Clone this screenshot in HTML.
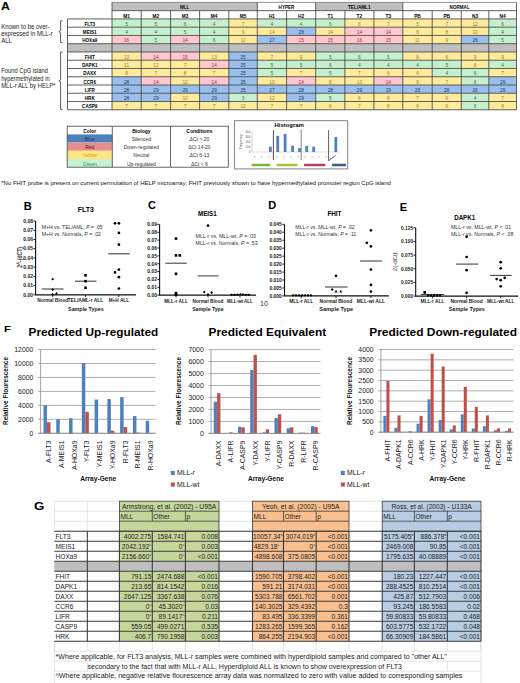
<!DOCTYPE html>
<html><head><meta charset="utf-8"><style>
html,body{margin:0;padding:0;background:#fff;}
svg{display:block;font-family:"Liberation Sans", sans-serif;}
</style></head><body>
<svg width="520" height="683" viewBox="0 0 520 683">
<rect width="520" height="683" fill="#fff"/>
<text x="1.00" y="9.90" font-size="10.4" font-weight="bold" textLength="8.90" lengthAdjust="spacingAndGlyphs">A</text>
<rect x="112.00" y="2.40" width="145.30" height="8.26" fill="#BFBFBF"/>
<rect x="257.30" y="2.40" width="58.40" height="8.26" fill="#FFFFFF"/>
<rect x="315.70" y="2.40" width="87.10" height="8.26" fill="#BFBFBF"/>
<rect x="402.80" y="2.40" width="113.70" height="8.26" fill="#FFFFFF"/>
<rect x="112.00" y="10.66" width="29.20" height="8.26" fill="#FFFFFF"/>
<rect x="141.20" y="10.66" width="29.40" height="8.26" fill="#FFFFFF"/>
<rect x="170.60" y="10.66" width="29.00" height="8.26" fill="#FFFFFF"/>
<rect x="199.60" y="10.66" width="29.20" height="8.26" fill="#FFFFFF"/>
<rect x="228.80" y="10.66" width="28.50" height="8.26" fill="#FFFFFF"/>
<rect x="257.30" y="10.66" width="29.30" height="8.26" fill="#FFFFFF"/>
<rect x="286.60" y="10.66" width="29.10" height="8.26" fill="#FFFFFF"/>
<rect x="315.70" y="10.66" width="29.20" height="8.26" fill="#FFFFFF"/>
<rect x="344.90" y="10.66" width="29.00" height="8.26" fill="#FFFFFF"/>
<rect x="373.90" y="10.66" width="28.90" height="8.26" fill="#FFFFFF"/>
<rect x="402.80" y="10.66" width="29.40" height="8.26" fill="#FFFFFF"/>
<rect x="432.20" y="10.66" width="29.10" height="8.26" fill="#FFFFFF"/>
<rect x="461.30" y="10.66" width="27.50" height="8.26" fill="#FFFFFF"/>
<rect x="488.80" y="10.66" width="27.70" height="8.26" fill="#FFFFFF"/>
<rect x="67.50" y="18.92" width="44.50" height="8.26" fill="#FFFFFF"/>
<rect x="112.00" y="18.92" width="29.20" height="8.26" fill="#C6EFCE"/>
<rect x="141.20" y="18.92" width="29.40" height="8.26" fill="#C6EFCE"/>
<rect x="170.60" y="18.92" width="29.00" height="8.26" fill="#C6EFCE"/>
<rect x="199.60" y="18.92" width="29.20" height="8.26" fill="#C6EFCE"/>
<rect x="228.80" y="18.92" width="28.50" height="8.26" fill="#FFEB9C"/>
<rect x="257.30" y="18.92" width="29.30" height="8.26" fill="#C6EFCE"/>
<rect x="286.60" y="18.92" width="29.10" height="8.26" fill="#C6EFCE"/>
<rect x="315.70" y="18.92" width="29.20" height="8.26" fill="#C6EFCE"/>
<rect x="344.90" y="18.92" width="29.00" height="8.26" fill="#FFEB9C"/>
<rect x="373.90" y="18.92" width="28.90" height="8.26" fill="#FFEB9C"/>
<rect x="402.80" y="18.92" width="29.40" height="8.26" fill="#FFEB9C"/>
<rect x="432.20" y="18.92" width="29.10" height="8.26" fill="#FFEB9C"/>
<rect x="461.30" y="18.92" width="27.50" height="8.26" fill="#FFEB9C"/>
<rect x="488.80" y="18.92" width="27.70" height="8.26" fill="#C6EFCE"/>
<rect x="67.50" y="27.18" width="44.50" height="8.26" fill="#FFFFFF"/>
<rect x="112.00" y="27.18" width="29.20" height="8.26" fill="#C6EFCE"/>
<rect x="141.20" y="27.18" width="29.40" height="8.26" fill="#C6EFCE"/>
<rect x="170.60" y="27.18" width="29.00" height="8.26" fill="#C6EFCE"/>
<rect x="199.60" y="27.18" width="29.20" height="8.26" fill="#C6EFCE"/>
<rect x="228.80" y="27.18" width="28.50" height="8.26" fill="#FFEB9C"/>
<rect x="257.30" y="27.18" width="29.30" height="8.26" fill="#FFEB9C"/>
<rect x="286.60" y="27.18" width="29.10" height="8.26" fill="#9BBFEC"/>
<rect x="315.70" y="27.18" width="29.20" height="8.26" fill="#FFEB9C"/>
<rect x="344.90" y="27.18" width="29.00" height="8.26" fill="#FFC7CE"/>
<rect x="373.90" y="27.18" width="28.90" height="8.26" fill="#FFC7CE"/>
<rect x="402.80" y="27.18" width="29.40" height="8.26" fill="#FFEB9C"/>
<rect x="432.20" y="27.18" width="29.10" height="8.26" fill="#FFEB9C"/>
<rect x="461.30" y="27.18" width="27.50" height="8.26" fill="#FFEB9C"/>
<rect x="488.80" y="27.18" width="27.70" height="8.26" fill="#C6EFCE"/>
<rect x="67.50" y="35.44" width="44.50" height="8.26" fill="#FFFFFF"/>
<rect x="112.00" y="35.44" width="29.20" height="8.26" fill="#FFC7CE"/>
<rect x="141.20" y="35.44" width="29.40" height="8.26" fill="#C6EFCE"/>
<rect x="170.60" y="35.44" width="29.00" height="8.26" fill="#FFC7CE"/>
<rect x="199.60" y="35.44" width="29.20" height="8.26" fill="#C6EFCE"/>
<rect x="228.80" y="35.44" width="28.50" height="8.26" fill="#FFEB9C"/>
<rect x="257.30" y="35.44" width="29.30" height="8.26" fill="#9BBFEC"/>
<rect x="286.60" y="35.44" width="29.10" height="8.26" fill="#FFC7CE"/>
<rect x="315.70" y="35.44" width="29.20" height="8.26" fill="#FFC7CE"/>
<rect x="344.90" y="35.44" width="29.00" height="8.26" fill="#FFC7CE"/>
<rect x="373.90" y="35.44" width="28.90" height="8.26" fill="#FFC7CE"/>
<rect x="402.80" y="35.44" width="29.40" height="8.26" fill="#FFEB9C"/>
<rect x="432.20" y="35.44" width="29.10" height="8.26" fill="#FFEB9C"/>
<rect x="461.30" y="35.44" width="27.50" height="8.26" fill="#9BBFEC"/>
<rect x="488.80" y="35.44" width="27.70" height="8.26" fill="#C6EFCE"/>
<rect x="67.50" y="43.70" width="449.00" height="8.26" fill="#BFBFBF"/>
<rect x="67.50" y="51.96" width="44.50" height="8.26" fill="#FFFFFF"/>
<rect x="112.00" y="51.96" width="29.20" height="8.26" fill="#FFEB9C"/>
<rect x="141.20" y="51.96" width="29.40" height="8.26" fill="#FFC7CE"/>
<rect x="170.60" y="51.96" width="29.00" height="8.26" fill="#FFC7CE"/>
<rect x="199.60" y="51.96" width="29.20" height="8.26" fill="#FFEB9C"/>
<rect x="228.80" y="51.96" width="28.50" height="8.26" fill="#9BBFEC"/>
<rect x="257.30" y="51.96" width="29.30" height="8.26" fill="#FFEB9C"/>
<rect x="286.60" y="51.96" width="29.10" height="8.26" fill="#FFEB9C"/>
<rect x="315.70" y="51.96" width="29.20" height="8.26" fill="#C6EFCE"/>
<rect x="344.90" y="51.96" width="29.00" height="8.26" fill="#C6EFCE"/>
<rect x="373.90" y="51.96" width="28.90" height="8.26" fill="#C6EFCE"/>
<rect x="402.80" y="51.96" width="29.40" height="8.26" fill="#FFEB9C"/>
<rect x="432.20" y="51.96" width="29.10" height="8.26" fill="#FFEB9C"/>
<rect x="461.30" y="51.96" width="27.50" height="8.26" fill="#FFEB9C"/>
<rect x="488.80" y="51.96" width="27.70" height="8.26" fill="#FFEB9C"/>
<rect x="67.50" y="60.22" width="44.50" height="8.26" fill="#FFFFFF"/>
<rect x="112.00" y="60.22" width="29.20" height="8.26" fill="#FFEB9C"/>
<rect x="141.20" y="60.22" width="29.40" height="8.26" fill="#FFEB9C"/>
<rect x="170.60" y="60.22" width="29.00" height="8.26" fill="#FFEB9C"/>
<rect x="199.60" y="60.22" width="29.20" height="8.26" fill="#FFC7CE"/>
<rect x="228.80" y="60.22" width="28.50" height="8.26" fill="#9BBFEC"/>
<rect x="257.30" y="60.22" width="29.30" height="8.26" fill="#C6EFCE"/>
<rect x="286.60" y="60.22" width="29.10" height="8.26" fill="#C6EFCE"/>
<rect x="315.70" y="60.22" width="29.20" height="8.26" fill="#C6EFCE"/>
<rect x="344.90" y="60.22" width="29.00" height="8.26" fill="#C6EFCE"/>
<rect x="373.90" y="60.22" width="28.90" height="8.26" fill="#C6EFCE"/>
<rect x="402.80" y="60.22" width="29.40" height="8.26" fill="#C6EFCE"/>
<rect x="432.20" y="60.22" width="29.10" height="8.26" fill="#C6EFCE"/>
<rect x="461.30" y="60.22" width="27.50" height="8.26" fill="#FFEB9C"/>
<rect x="488.80" y="60.22" width="27.70" height="8.26" fill="#C6EFCE"/>
<rect x="67.50" y="68.48" width="44.50" height="8.26" fill="#FFFFFF"/>
<rect x="112.00" y="68.48" width="29.20" height="8.26" fill="#FFEB9C"/>
<rect x="141.20" y="68.48" width="29.40" height="8.26" fill="#FFEB9C"/>
<rect x="170.60" y="68.48" width="29.00" height="8.26" fill="#FFEB9C"/>
<rect x="199.60" y="68.48" width="29.20" height="8.26" fill="#FFEB9C"/>
<rect x="228.80" y="68.48" width="28.50" height="8.26" fill="#9BBFEC"/>
<rect x="257.30" y="68.48" width="29.30" height="8.26" fill="#C6EFCE"/>
<rect x="286.60" y="68.48" width="29.10" height="8.26" fill="#FFEB9C"/>
<rect x="315.70" y="68.48" width="29.20" height="8.26" fill="#C6EFCE"/>
<rect x="344.90" y="68.48" width="29.00" height="8.26" fill="#FFEB9C"/>
<rect x="373.90" y="68.48" width="28.90" height="8.26" fill="#FFEB9C"/>
<rect x="402.80" y="68.48" width="29.40" height="8.26" fill="#FFEB9C"/>
<rect x="432.20" y="68.48" width="29.10" height="8.26" fill="#C6EFCE"/>
<rect x="461.30" y="68.48" width="27.50" height="8.26" fill="#C6EFCE"/>
<rect x="488.80" y="68.48" width="27.70" height="8.26" fill="#FFEB9C"/>
<rect x="67.50" y="76.74" width="44.50" height="8.26" fill="#FFFFFF"/>
<rect x="112.00" y="76.74" width="29.20" height="8.26" fill="#9BBFEC"/>
<rect x="141.20" y="76.74" width="29.40" height="8.26" fill="#FFC7CE"/>
<rect x="170.60" y="76.74" width="29.00" height="8.26" fill="#FFEB9C"/>
<rect x="199.60" y="76.74" width="29.20" height="8.26" fill="#FFC7CE"/>
<rect x="228.80" y="76.74" width="28.50" height="8.26" fill="#9BBFEC"/>
<rect x="257.30" y="76.74" width="29.30" height="8.26" fill="#FFEB9C"/>
<rect x="286.60" y="76.74" width="29.10" height="8.26" fill="#FFC7CE"/>
<rect x="315.70" y="76.74" width="29.20" height="8.26" fill="#FFEB9C"/>
<rect x="344.90" y="76.74" width="29.00" height="8.26" fill="#FFEB9C"/>
<rect x="373.90" y="76.74" width="28.90" height="8.26" fill="#FFC7CE"/>
<rect x="402.80" y="76.74" width="29.40" height="8.26" fill="#FFEB9C"/>
<rect x="432.20" y="76.74" width="29.10" height="8.26" fill="#FFEB9C"/>
<rect x="461.30" y="76.74" width="27.50" height="8.26" fill="#C6EFCE"/>
<rect x="488.80" y="76.74" width="27.70" height="8.26" fill="#9BBFEC"/>
<rect x="67.50" y="85.00" width="44.50" height="8.26" fill="#FFFFFF"/>
<rect x="112.00" y="85.00" width="29.20" height="8.26" fill="#9BBFEC"/>
<rect x="141.20" y="85.00" width="29.40" height="8.26" fill="#9BBFEC"/>
<rect x="170.60" y="85.00" width="29.00" height="8.26" fill="#9BBFEC"/>
<rect x="199.60" y="85.00" width="29.20" height="8.26" fill="#9BBFEC"/>
<rect x="228.80" y="85.00" width="28.50" height="8.26" fill="#9BBFEC"/>
<rect x="257.30" y="85.00" width="29.30" height="8.26" fill="#9BBFEC"/>
<rect x="286.60" y="85.00" width="29.10" height="8.26" fill="#9BBFEC"/>
<rect x="315.70" y="85.00" width="29.20" height="8.26" fill="#9BBFEC"/>
<rect x="344.90" y="85.00" width="29.00" height="8.26" fill="#9BBFEC"/>
<rect x="373.90" y="85.00" width="28.90" height="8.26" fill="#9BBFEC"/>
<rect x="402.80" y="85.00" width="29.40" height="8.26" fill="#9BBFEC"/>
<rect x="432.20" y="85.00" width="29.10" height="8.26" fill="#9BBFEC"/>
<rect x="461.30" y="85.00" width="27.50" height="8.26" fill="#9BBFEC"/>
<rect x="488.80" y="85.00" width="27.70" height="8.26" fill="#9BBFEC"/>
<rect x="67.50" y="93.26" width="44.50" height="8.26" fill="#FFFFFF"/>
<rect x="112.00" y="93.26" width="29.20" height="8.26" fill="#9BBFEC"/>
<rect x="141.20" y="93.26" width="29.40" height="8.26" fill="#9BBFEC"/>
<rect x="170.60" y="93.26" width="29.00" height="8.26" fill="#FFEB9C"/>
<rect x="199.60" y="93.26" width="29.20" height="8.26" fill="#9BBFEC"/>
<rect x="228.80" y="93.26" width="28.50" height="8.26" fill="#C6EFCE"/>
<rect x="257.30" y="93.26" width="29.30" height="8.26" fill="#FFEB9C"/>
<rect x="286.60" y="93.26" width="29.10" height="8.26" fill="#9BBFEC"/>
<rect x="315.70" y="93.26" width="29.20" height="8.26" fill="#C6EFCE"/>
<rect x="344.90" y="93.26" width="29.00" height="8.26" fill="#FFEB9C"/>
<rect x="373.90" y="93.26" width="28.90" height="8.26" fill="#FFEB9C"/>
<rect x="402.80" y="93.26" width="29.40" height="8.26" fill="#FFEB9C"/>
<rect x="432.20" y="93.26" width="29.10" height="8.26" fill="#FFEB9C"/>
<rect x="461.30" y="93.26" width="27.50" height="8.26" fill="#C6EFCE"/>
<rect x="488.80" y="93.26" width="27.70" height="8.26" fill="#FFEB9C"/>
<rect x="67.50" y="101.52" width="44.50" height="8.26" fill="#FFFFFF"/>
<rect x="112.00" y="101.52" width="29.20" height="8.26" fill="#FFEB9C"/>
<rect x="141.20" y="101.52" width="29.40" height="8.26" fill="#FFEB9C"/>
<rect x="170.60" y="101.52" width="29.00" height="8.26" fill="#FFEB9C"/>
<rect x="199.60" y="101.52" width="29.20" height="8.26" fill="#FFEB9C"/>
<rect x="228.80" y="101.52" width="28.50" height="8.26" fill="#FFEB9C"/>
<rect x="257.30" y="101.52" width="29.30" height="8.26" fill="#FFEB9C"/>
<rect x="286.60" y="101.52" width="29.10" height="8.26" fill="#FFEB9C"/>
<rect x="315.70" y="101.52" width="29.20" height="8.26" fill="#FFEB9C"/>
<rect x="344.90" y="101.52" width="29.00" height="8.26" fill="#FFEB9C"/>
<rect x="373.90" y="101.52" width="28.90" height="8.26" fill="#FFEB9C"/>
<rect x="402.80" y="101.52" width="29.40" height="8.26" fill="#FFEB9C"/>
<rect x="432.20" y="101.52" width="29.10" height="8.26" fill="#FFEB9C"/>
<rect x="461.30" y="101.52" width="27.50" height="8.26" fill="#C6EFCE"/>
<rect x="488.80" y="101.52" width="27.70" height="8.26" fill="#FFEB9C"/>
<line x1="112.00" y1="2.40" x2="516.50" y2="2.40" stroke="#7a7a7a" stroke-width="0.8"/>
<line x1="112.00" y1="10.66" x2="516.50" y2="10.66" stroke="#3a3a3a" stroke-width="0.8"/>
<line x1="67.50" y1="18.92" x2="516.50" y2="18.92" stroke="#3a3a3a" stroke-width="0.8"/>
<line x1="67.50" y1="27.18" x2="516.50" y2="27.18" stroke="#3a3a3a" stroke-width="0.8"/>
<line x1="67.50" y1="35.44" x2="516.50" y2="35.44" stroke="#3a3a3a" stroke-width="0.8"/>
<line x1="67.50" y1="43.70" x2="516.50" y2="43.70" stroke="#3a3a3a" stroke-width="0.8"/>
<line x1="67.50" y1="51.96" x2="516.50" y2="51.96" stroke="#3a3a3a" stroke-width="0.8"/>
<line x1="67.50" y1="60.22" x2="516.50" y2="60.22" stroke="#3a3a3a" stroke-width="0.8"/>
<line x1="67.50" y1="68.48" x2="516.50" y2="68.48" stroke="#3a3a3a" stroke-width="0.8"/>
<line x1="67.50" y1="76.74" x2="516.50" y2="76.74" stroke="#3a3a3a" stroke-width="0.8"/>
<line x1="67.50" y1="85.00" x2="516.50" y2="85.00" stroke="#3a3a3a" stroke-width="0.8"/>
<line x1="67.50" y1="93.26" x2="516.50" y2="93.26" stroke="#3a3a3a" stroke-width="0.8"/>
<line x1="67.50" y1="101.52" x2="516.50" y2="101.52" stroke="#3a3a3a" stroke-width="0.8"/>
<line x1="67.50" y1="109.78" x2="516.50" y2="109.78" stroke="#3a3a3a" stroke-width="0.8"/>
<line x1="67.50" y1="18.92" x2="67.50" y2="109.78" stroke="#3a3a3a" stroke-width="0.8"/>
<line x1="112.00" y1="2.40" x2="112.00" y2="109.78" stroke="#3a3a3a" stroke-width="0.8"/>
<line x1="141.20" y1="10.66" x2="141.20" y2="109.78" stroke="#3a3a3a" stroke-width="0.8"/>
<line x1="170.60" y1="10.66" x2="170.60" y2="109.78" stroke="#3a3a3a" stroke-width="0.8"/>
<line x1="199.60" y1="10.66" x2="199.60" y2="109.78" stroke="#3a3a3a" stroke-width="0.8"/>
<line x1="228.80" y1="10.66" x2="228.80" y2="109.78" stroke="#3a3a3a" stroke-width="0.8"/>
<line x1="257.30" y1="2.40" x2="257.30" y2="109.78" stroke="#3a3a3a" stroke-width="0.8"/>
<line x1="286.60" y1="10.66" x2="286.60" y2="109.78" stroke="#3a3a3a" stroke-width="0.8"/>
<line x1="315.70" y1="2.40" x2="315.70" y2="109.78" stroke="#3a3a3a" stroke-width="0.8"/>
<line x1="344.90" y1="10.66" x2="344.90" y2="109.78" stroke="#3a3a3a" stroke-width="0.8"/>
<line x1="373.90" y1="10.66" x2="373.90" y2="109.78" stroke="#3a3a3a" stroke-width="0.8"/>
<line x1="402.80" y1="2.40" x2="402.80" y2="109.78" stroke="#3a3a3a" stroke-width="0.8"/>
<line x1="432.20" y1="10.66" x2="432.20" y2="109.78" stroke="#3a3a3a" stroke-width="0.8"/>
<line x1="461.30" y1="10.66" x2="461.30" y2="109.78" stroke="#3a3a3a" stroke-width="0.8"/>
<line x1="488.80" y1="10.66" x2="488.80" y2="109.78" stroke="#3a3a3a" stroke-width="0.8"/>
<line x1="516.50" y1="2.40" x2="516.50" y2="109.78" stroke="#3a3a3a" stroke-width="0.8"/>
<text x="184.65" y="9.36" font-size="4.6" text-anchor="middle" font-weight="bold">MLL</text>
<text x="286.50" y="9.36" font-size="4.6" text-anchor="middle" font-weight="bold">HYPER</text>
<text x="359.25" y="9.36" font-size="4.6" text-anchor="middle" font-weight="bold">TEL/AML1</text>
<text x="459.65" y="9.36" font-size="4.6" text-anchor="middle" font-weight="bold">NORMAL</text>
<text x="126.60" y="17.52" font-size="4.8" text-anchor="middle" font-weight="bold">M1</text>
<text x="155.90" y="17.52" font-size="4.8" text-anchor="middle" font-weight="bold">M2</text>
<text x="185.10" y="17.52" font-size="4.8" text-anchor="middle" font-weight="bold">M3</text>
<text x="214.20" y="17.52" font-size="4.8" text-anchor="middle" font-weight="bold">M4</text>
<text x="243.05" y="17.52" font-size="4.8" text-anchor="middle" font-weight="bold">M5</text>
<text x="271.95" y="17.52" font-size="4.8" text-anchor="middle" font-weight="bold">H1</text>
<text x="301.15" y="17.52" font-size="4.8" text-anchor="middle" font-weight="bold">H2</text>
<text x="330.30" y="17.52" font-size="4.8" text-anchor="middle" font-weight="bold">T1</text>
<text x="359.40" y="17.52" font-size="4.8" text-anchor="middle" font-weight="bold">T2</text>
<text x="388.35" y="17.52" font-size="4.8" text-anchor="middle" font-weight="bold">T3</text>
<text x="417.50" y="17.52" font-size="4.8" text-anchor="middle" font-weight="bold">PB</text>
<text x="446.75" y="17.52" font-size="4.8" text-anchor="middle" font-weight="bold">PB</text>
<text x="475.05" y="17.52" font-size="4.8" text-anchor="middle" font-weight="bold">N3</text>
<text x="502.65" y="17.52" font-size="4.8" text-anchor="middle" font-weight="bold">N4</text>
<text x="126.60" y="25.78" font-size="4.8" text-anchor="middle" fill="#2A7A3A">5</text>
<text x="155.90" y="25.78" font-size="4.8" text-anchor="middle" fill="#2A7A3A">5</text>
<text x="185.10" y="25.78" font-size="4.8" text-anchor="middle" fill="#2A7A3A">6</text>
<text x="214.20" y="25.78" font-size="4.8" text-anchor="middle" fill="#2A7A3A">4</text>
<text x="243.05" y="25.78" font-size="4.8" text-anchor="middle" fill="#A57A22">7</text>
<text x="271.95" y="25.78" font-size="4.8" text-anchor="middle" fill="#2A7A3A">4</text>
<text x="301.15" y="25.78" font-size="4.8" text-anchor="middle" fill="#2A7A3A">4</text>
<text x="330.30" y="25.78" font-size="4.8" text-anchor="middle" fill="#2A7A3A">6</text>
<text x="359.40" y="25.78" font-size="4.8" text-anchor="middle" fill="#A57A22">6</text>
<text x="388.35" y="25.78" font-size="4.8" text-anchor="middle" fill="#A57A22">7</text>
<text x="417.50" y="25.78" font-size="4.8" text-anchor="middle" fill="#A57A22">5</text>
<text x="446.75" y="25.78" font-size="4.8" text-anchor="middle" fill="#A57A22">7</text>
<text x="475.05" y="25.78" font-size="4.8" text-anchor="middle" fill="#A57A22">12</text>
<text x="502.65" y="25.78" font-size="4.8" text-anchor="middle" fill="#2A7A3A">6</text>
<text x="89.75" y="25.78" font-size="4.6" text-anchor="middle" font-weight="bold">FLT3</text>
<text x="126.60" y="34.04" font-size="4.8" text-anchor="middle" fill="#2A7A3A">4</text>
<text x="155.90" y="34.04" font-size="4.8" text-anchor="middle" fill="#2A7A3A">4</text>
<text x="185.10" y="34.04" font-size="4.8" text-anchor="middle" fill="#2A7A3A">5</text>
<text x="214.20" y="34.04" font-size="4.8" text-anchor="middle" fill="#2A7A3A">4</text>
<text x="243.05" y="34.04" font-size="4.8" text-anchor="middle" fill="#A57A22">9</text>
<text x="271.95" y="34.04" font-size="4.8" text-anchor="middle" fill="#A57A22">14</text>
<text x="301.15" y="34.04" font-size="4.8" text-anchor="middle" fill="#203E6E">28</text>
<text x="330.30" y="34.04" font-size="4.8" text-anchor="middle" fill="#A57A22">14</text>
<text x="359.40" y="34.04" font-size="4.8" text-anchor="middle" fill="#A8283A">14</text>
<text x="388.35" y="34.04" font-size="4.8" text-anchor="middle" fill="#A8283A">14</text>
<text x="417.50" y="34.04" font-size="4.8" text-anchor="middle" fill="#A57A22">8</text>
<text x="446.75" y="34.04" font-size="4.8" text-anchor="middle" fill="#A57A22">8</text>
<text x="475.05" y="34.04" font-size="4.8" text-anchor="middle" fill="#A57A22">10</text>
<text x="502.65" y="34.04" font-size="4.8" text-anchor="middle" fill="#2A7A3A">4</text>
<text x="89.75" y="34.04" font-size="4.6" text-anchor="middle" font-weight="bold">MEIS1</text>
<text x="126.60" y="42.30" font-size="4.8" text-anchor="middle" fill="#A8283A">16</text>
<text x="155.90" y="42.30" font-size="4.8" text-anchor="middle" fill="#2A7A3A">5</text>
<text x="185.10" y="42.30" font-size="4.8" text-anchor="middle" fill="#A8283A">14</text>
<text x="214.20" y="42.30" font-size="4.8" text-anchor="middle" fill="#2A7A3A">6</text>
<text x="243.05" y="42.30" font-size="4.8" text-anchor="middle" fill="#A57A22">12</text>
<text x="271.95" y="42.30" font-size="4.8" text-anchor="middle" fill="#203E6E">27</text>
<text x="301.15" y="42.30" font-size="4.8" text-anchor="middle" fill="#A8283A">15</text>
<text x="330.30" y="42.30" font-size="4.8" text-anchor="middle" fill="#A8283A">15</text>
<text x="359.40" y="42.30" font-size="4.8" text-anchor="middle" fill="#A8283A">16</text>
<text x="388.35" y="42.30" font-size="4.8" text-anchor="middle" fill="#A8283A">15</text>
<text x="417.50" y="42.30" font-size="4.8" text-anchor="middle" fill="#A57A22">11</text>
<text x="446.75" y="42.30" font-size="4.8" text-anchor="middle" fill="#A57A22">9</text>
<text x="475.05" y="42.30" font-size="4.8" text-anchor="middle" fill="#203E6E">26</text>
<text x="502.65" y="42.30" font-size="4.8" text-anchor="middle" fill="#2A7A3A">5</text>
<text x="89.75" y="42.30" font-size="4.6" text-anchor="middle" font-weight="bold">HOXa9</text>
<text x="126.60" y="58.82" font-size="4.8" text-anchor="middle" fill="#A57A22">13</text>
<text x="155.90" y="58.82" font-size="4.8" text-anchor="middle" fill="#A8283A">14</text>
<text x="185.10" y="58.82" font-size="4.8" text-anchor="middle" fill="#A8283A">15</text>
<text x="214.20" y="58.82" font-size="4.8" text-anchor="middle" fill="#A57A22">13</text>
<text x="243.05" y="58.82" font-size="4.8" text-anchor="middle" fill="#203E6E">25</text>
<text x="271.95" y="58.82" font-size="4.8" text-anchor="middle" fill="#A57A22">7</text>
<text x="301.15" y="58.82" font-size="4.8" text-anchor="middle" fill="#A57A22">9</text>
<text x="330.30" y="58.82" font-size="4.8" text-anchor="middle" fill="#2A7A3A">5</text>
<text x="359.40" y="58.82" font-size="4.8" text-anchor="middle" fill="#2A7A3A">6</text>
<text x="388.35" y="58.82" font-size="4.8" text-anchor="middle" fill="#2A7A3A">5</text>
<text x="417.50" y="58.82" font-size="4.8" text-anchor="middle" fill="#A57A22">8</text>
<text x="446.75" y="58.82" font-size="4.8" text-anchor="middle" fill="#A57A22">6</text>
<text x="475.05" y="58.82" font-size="4.8" text-anchor="middle" fill="#A57A22">9</text>
<text x="502.65" y="58.82" font-size="4.8" text-anchor="middle" fill="#A57A22">9</text>
<text x="89.75" y="58.82" font-size="4.6" text-anchor="middle" font-weight="bold">FHIT</text>
<text x="126.60" y="67.08" font-size="4.8" text-anchor="middle" fill="#A57A22">11</text>
<text x="155.90" y="67.08" font-size="4.8" text-anchor="middle" fill="#A57A22">12</text>
<text x="185.10" y="67.08" font-size="4.8" text-anchor="middle" fill="#A57A22">7</text>
<text x="214.20" y="67.08" font-size="4.8" text-anchor="middle" fill="#A8283A">14</text>
<text x="243.05" y="67.08" font-size="4.8" text-anchor="middle" fill="#203E6E">25</text>
<text x="271.95" y="67.08" font-size="4.8" text-anchor="middle" fill="#2A7A3A">5</text>
<text x="301.15" y="67.08" font-size="4.8" text-anchor="middle" fill="#2A7A3A">5</text>
<text x="330.30" y="67.08" font-size="4.8" text-anchor="middle" fill="#2A7A3A">6</text>
<text x="359.40" y="67.08" font-size="4.8" text-anchor="middle" fill="#2A7A3A">4</text>
<text x="388.35" y="67.08" font-size="4.8" text-anchor="middle" fill="#2A7A3A">4</text>
<text x="417.50" y="67.08" font-size="4.8" text-anchor="middle" fill="#2A7A3A">4</text>
<text x="446.75" y="67.08" font-size="4.8" text-anchor="middle" fill="#2A7A3A">5</text>
<text x="475.05" y="67.08" font-size="4.8" text-anchor="middle" fill="#A57A22">8</text>
<text x="502.65" y="67.08" font-size="4.8" text-anchor="middle" fill="#2A7A3A">4</text>
<text x="89.75" y="67.08" font-size="4.6" text-anchor="middle" font-weight="bold">DAPK1</text>
<text x="126.60" y="75.34" font-size="4.8" text-anchor="middle" fill="#A57A22">8</text>
<text x="155.90" y="75.34" font-size="4.8" text-anchor="middle" fill="#A57A22">7</text>
<text x="185.10" y="75.34" font-size="4.8" text-anchor="middle" fill="#A57A22">8</text>
<text x="214.20" y="75.34" font-size="4.8" text-anchor="middle" fill="#A57A22">7</text>
<text x="243.05" y="75.34" font-size="4.8" text-anchor="middle" fill="#203E6E">25</text>
<text x="271.95" y="75.34" font-size="4.8" text-anchor="middle" fill="#2A7A3A">5</text>
<text x="301.15" y="75.34" font-size="4.8" text-anchor="middle" fill="#A57A22">7</text>
<text x="330.30" y="75.34" font-size="4.8" text-anchor="middle" fill="#2A7A3A">5</text>
<text x="359.40" y="75.34" font-size="4.8" text-anchor="middle" fill="#A57A22">7</text>
<text x="388.35" y="75.34" font-size="4.8" text-anchor="middle" fill="#A57A22">6</text>
<text x="417.50" y="75.34" font-size="4.8" text-anchor="middle" fill="#A57A22">6</text>
<text x="446.75" y="75.34" font-size="4.8" text-anchor="middle" fill="#2A7A3A">4</text>
<text x="475.05" y="75.34" font-size="4.8" text-anchor="middle" fill="#2A7A3A">6</text>
<text x="502.65" y="75.34" font-size="4.8" text-anchor="middle" fill="#A57A22">7</text>
<text x="89.75" y="75.34" font-size="4.6" text-anchor="middle" font-weight="bold">DAXX</text>
<text x="126.60" y="83.60" font-size="4.8" text-anchor="middle" fill="#203E6E">28</text>
<text x="155.90" y="83.60" font-size="4.8" text-anchor="middle" fill="#A8283A">14</text>
<text x="185.10" y="83.60" font-size="4.8" text-anchor="middle" fill="#A57A22">12</text>
<text x="214.20" y="83.60" font-size="4.8" text-anchor="middle" fill="#A8283A">14</text>
<text x="243.05" y="83.60" font-size="4.8" text-anchor="middle" fill="#203E6E">25</text>
<text x="271.95" y="83.60" font-size="4.8" text-anchor="middle" fill="#A57A22">10</text>
<text x="301.15" y="83.60" font-size="4.8" text-anchor="middle" fill="#A8283A">14</text>
<text x="330.30" y="83.60" font-size="4.8" text-anchor="middle" fill="#A57A22">8</text>
<text x="359.40" y="83.60" font-size="4.8" text-anchor="middle" fill="#A57A22">13</text>
<text x="388.35" y="83.60" font-size="4.8" text-anchor="middle" fill="#A8283A">14</text>
<text x="417.50" y="83.60" font-size="4.8" text-anchor="middle" fill="#A57A22">9</text>
<text x="446.75" y="83.60" font-size="4.8" text-anchor="middle" fill="#A57A22">7</text>
<text x="475.05" y="83.60" font-size="4.8" text-anchor="middle" fill="#2A7A3A">6</text>
<text x="502.65" y="83.60" font-size="4.8" text-anchor="middle" fill="#203E6E">29</text>
<text x="89.75" y="83.60" font-size="4.6" text-anchor="middle" font-weight="bold">CCR6</text>
<text x="126.60" y="91.86" font-size="4.8" text-anchor="middle" fill="#203E6E">28</text>
<text x="155.90" y="91.86" font-size="4.8" text-anchor="middle" fill="#203E6E">29</text>
<text x="185.10" y="91.86" font-size="4.8" text-anchor="middle" fill="#203E6E">29</text>
<text x="214.20" y="91.86" font-size="4.8" text-anchor="middle" fill="#203E6E">29</text>
<text x="243.05" y="91.86" font-size="4.8" text-anchor="middle" fill="#203E6E">25</text>
<text x="271.95" y="91.86" font-size="4.8" text-anchor="middle" fill="#203E6E">27</text>
<text x="301.15" y="91.86" font-size="4.8" text-anchor="middle" fill="#203E6E">28</text>
<text x="330.30" y="91.86" font-size="4.8" text-anchor="middle" fill="#203E6E">28</text>
<text x="359.40" y="91.86" font-size="4.8" text-anchor="middle" fill="#203E6E">29</text>
<text x="388.35" y="91.86" font-size="4.8" text-anchor="middle" fill="#203E6E">29</text>
<text x="417.50" y="91.86" font-size="4.8" text-anchor="middle" fill="#203E6E">28</text>
<text x="446.75" y="91.86" font-size="4.8" text-anchor="middle" fill="#203E6E">28</text>
<text x="475.05" y="91.86" font-size="4.8" text-anchor="middle" fill="#203E6E">26</text>
<text x="502.65" y="91.86" font-size="4.8" text-anchor="middle" fill="#203E6E">29</text>
<text x="89.75" y="91.86" font-size="4.6" text-anchor="middle" font-weight="bold">LIFR</text>
<text x="126.60" y="100.12" font-size="4.8" text-anchor="middle" fill="#203E6E">28</text>
<text x="155.90" y="100.12" font-size="4.8" text-anchor="middle" fill="#203E6E">29</text>
<text x="185.10" y="100.12" font-size="4.8" text-anchor="middle" fill="#A57A22">10</text>
<text x="214.20" y="100.12" font-size="4.8" text-anchor="middle" fill="#203E6E">29</text>
<text x="243.05" y="100.12" font-size="4.8" text-anchor="middle" fill="#2A7A3A">3</text>
<text x="271.95" y="100.12" font-size="4.8" text-anchor="middle" fill="#A57A22">12</text>
<text x="301.15" y="100.12" font-size="4.8" text-anchor="middle" fill="#203E6E">29</text>
<text x="330.30" y="100.12" font-size="4.8" text-anchor="middle" fill="#2A7A3A">5</text>
<text x="359.40" y="100.12" font-size="4.8" text-anchor="middle" fill="#A57A22">8</text>
<text x="388.35" y="100.12" font-size="4.8" text-anchor="middle" fill="#A57A22">8</text>
<text x="417.50" y="100.12" font-size="4.8" text-anchor="middle" fill="#A57A22">7</text>
<text x="446.75" y="100.12" font-size="4.8" text-anchor="middle" fill="#A57A22">6</text>
<text x="475.05" y="100.12" font-size="4.8" text-anchor="middle" fill="#2A7A3A">4</text>
<text x="502.65" y="100.12" font-size="4.8" text-anchor="middle" fill="#A57A22">7</text>
<text x="89.75" y="100.12" font-size="4.6" text-anchor="middle" font-weight="bold">HRK</text>
<text x="126.60" y="108.38" font-size="4.8" text-anchor="middle" fill="#A57A22">7</text>
<text x="155.90" y="108.38" font-size="4.8" text-anchor="middle" fill="#A57A22">7</text>
<text x="185.10" y="108.38" font-size="4.8" text-anchor="middle" fill="#A57A22">7</text>
<text x="214.20" y="108.38" font-size="4.8" text-anchor="middle" fill="#A57A22">7</text>
<text x="243.05" y="108.38" font-size="4.8" text-anchor="middle" fill="#A57A22">12</text>
<text x="271.95" y="108.38" font-size="4.8" text-anchor="middle" fill="#A57A22">7</text>
<text x="301.15" y="108.38" font-size="4.8" text-anchor="middle" fill="#A57A22">7</text>
<text x="330.30" y="108.38" font-size="4.8" text-anchor="middle" fill="#A57A22">6</text>
<text x="359.40" y="108.38" font-size="4.8" text-anchor="middle" fill="#A57A22">7</text>
<text x="388.35" y="108.38" font-size="4.8" text-anchor="middle" fill="#A57A22">8</text>
<text x="417.50" y="108.38" font-size="4.8" text-anchor="middle" fill="#A57A22">6</text>
<text x="446.75" y="108.38" font-size="4.8" text-anchor="middle" fill="#A57A22">6</text>
<text x="475.05" y="108.38" font-size="4.8" text-anchor="middle" fill="#2A7A3A">6</text>
<text x="502.65" y="108.38" font-size="4.8" text-anchor="middle" fill="#A57A22">8</text>
<text x="89.75" y="108.38" font-size="4.6" text-anchor="middle" font-weight="bold">CASP9</text>
<text x="1.20" y="28.90" font-size="6.6" fill="#1a1a1a" textLength="48.40" lengthAdjust="spacingAndGlyphs">Known to be over-</text>
<text x="1.20" y="36.30" font-size="6.6" fill="#1a1a1a" textLength="51.50" lengthAdjust="spacingAndGlyphs">expressed in MLL-r</text>
<text x="1.20" y="43.40" font-size="6.6" fill="#1a1a1a" textLength="10.80" lengthAdjust="spacingAndGlyphs">ALL</text>
<text x="1.20" y="73.40" font-size="6.6" fill="#1a1a1a" textLength="46.80" lengthAdjust="spacingAndGlyphs">Found CpG island</text>
<text x="1.20" y="80.80" font-size="6.6" fill="#1a1a1a" textLength="48.40" lengthAdjust="spacingAndGlyphs">hypermethylated in</text>
<text x="1.20" y="87.80" font-size="6.6" fill="#1a1a1a" textLength="54.20" lengthAdjust="spacingAndGlyphs">MLL-r ALL by HELP*</text>
<path d="M62.6,20.8 H60.6 V30.7 L58.8,31.7 L60.6,32.7 V42.6 H62.6" fill="none" stroke="#333" stroke-width="0.8"/>
<path d="M62.6,52.2 H60.6 V79.8 L58.8,80.8 L60.6,81.8 V109.4 H62.6" fill="none" stroke="#333" stroke-width="0.8"/>
<rect x="67.20" y="126.20" width="161.10" height="41.00" fill="#FFFFFF"/>
<rect x="67.20" y="134.40" width="45.10" height="8.20" fill="#4F81BD"/>
<rect x="67.20" y="142.60" width="45.10" height="8.20" fill="#E5908F"/>
<rect x="67.20" y="150.80" width="45.10" height="8.20" fill="#FFE680"/>
<rect x="67.20" y="159.00" width="45.10" height="8.20" fill="#C4F2D0"/>
<rect x="67.2" y="126.2" width="161.10" height="41.00" fill="none" stroke="#555" stroke-width="0.9"/>
<line x1="112.30" y1="126.20" x2="112.30" y2="167.20" stroke="#555" stroke-width="0.9"/>
<line x1="170.50" y1="126.20" x2="170.50" y2="167.20" stroke="#555" stroke-width="0.9"/>
<text x="89.75" y="132.80" font-size="5.0" text-anchor="middle" font-weight="bold">Color</text>
<text x="141.40" y="132.80" font-size="5.0" text-anchor="middle" font-weight="bold">Biology</text>
<text x="199.40" y="132.80" font-size="5.0" text-anchor="middle" font-weight="bold">Conditions</text>
<text x="89.75" y="141.00" font-size="5.0" text-anchor="middle" fill="#17375E">Blue</text>
<text x="141.40" y="141.00" font-size="5.0" text-anchor="middle" fill="#333">Silenced</text>
<text x="199.40" y="141.00" font-size="5.0" text-anchor="middle" fill="#333">ΔCt &gt; 20</text>
<text x="89.75" y="149.20" font-size="5.0" text-anchor="middle" fill="#4a1414">Red</text>
<text x="141.40" y="149.20" font-size="5.0" text-anchor="middle" fill="#333">Down-regulated</text>
<text x="199.40" y="149.20" font-size="5.0" text-anchor="middle" fill="#333">ΔCt 14-20</text>
<text x="89.75" y="157.40" font-size="5.0" text-anchor="middle" fill="#C9A100">Yellow</text>
<text x="141.40" y="157.40" font-size="5.0" text-anchor="middle" fill="#333">Neutral</text>
<text x="199.40" y="157.40" font-size="5.0" text-anchor="middle" fill="#333">ΔCt 6-13</text>
<text x="89.75" y="165.60" font-size="5.0" text-anchor="middle" fill="#2E8B57">Green</text>
<text x="141.40" y="165.60" font-size="5.0" text-anchor="middle" fill="#333">Up-regulated</text>
<text x="199.40" y="165.60" font-size="5.0" text-anchor="middle" fill="#333">ΔCt &lt; 6</text>
<rect x="234.4" y="120.7" width="113.3" height="48.2" fill="#FFFFFF" stroke="#777" stroke-width="0.9"/>
<text x="274.50" y="126.50" font-size="5.8" font-weight="bold" textLength="29.30" lengthAdjust="spacingAndGlyphs">Histogram</text>
<text x="241.60" y="141.80" font-size="3.0" text-anchor="middle" fill="#333" textLength="15.00" lengthAdjust="spacingAndGlyphs" transform="rotate(-90 241.60 141.80)">Frequency</text>
<line x1="252.00" y1="131.30" x2="252.00" y2="152.00" stroke="#aaa" stroke-width="0.5"/>
<line x1="252.00" y1="152.00" x2="339.60" y2="152.00" stroke="#bbb" stroke-width="0.5"/>
<text x="250.50" y="132.80" font-size="2.6" text-anchor="end" fill="#444">40.0</text>
<text x="250.50" y="137.80" font-size="2.6" text-anchor="end" fill="#444">30.0</text>
<text x="250.50" y="142.80" font-size="2.6" text-anchor="end" fill="#444">20.0</text>
<text x="250.50" y="147.80" font-size="2.6" text-anchor="end" fill="#444">10.0</text>
<text x="250.50" y="152.80" font-size="2.6" text-anchor="end" fill="#444">0</text>
<rect x="269.00" y="146.80" width="2.80" height="5.20" fill="#4F81BD"/>
<rect x="276.30" y="135.90" width="2.80" height="16.10" fill="#4F81BD"/>
<rect x="283.70" y="133.90" width="2.80" height="18.10" fill="#4F81BD"/>
<rect x="291.20" y="145.70" width="2.80" height="6.30" fill="#4F81BD"/>
<rect x="298.10" y="148.20" width="2.80" height="3.80" fill="#4F81BD"/>
<rect x="305.30" y="145.90" width="2.80" height="6.10" fill="#4F81BD"/>
<rect x="312.30" y="146.80" width="2.80" height="5.20" fill="#4F81BD"/>
<rect x="334.40" y="137.00" width="2.80" height="15.00" fill="#4F81BD"/>
<line x1="273.40" y1="130.10" x2="273.40" y2="160.10" stroke="#222" stroke-width="0.8"/>
<line x1="301.20" y1="129.50" x2="301.20" y2="160.10" stroke="#666" stroke-width="0.8"/>
<path d="M328.6,130.1 V160.7 L335.6,155.5" fill="none" stroke="#333" stroke-width="0.8"/>
<text x="255.00" y="157.50" font-size="2.4" text-anchor="middle" fill="#888" transform="rotate(-45 255.00 157.50)">-8</text>
<text x="262.00" y="157.50" font-size="2.4" text-anchor="middle" fill="#888" transform="rotate(-45 262.00 157.50)">-8</text>
<text x="269.00" y="157.50" font-size="2.4" text-anchor="middle" fill="#888" transform="rotate(-45 269.00 157.50)">-8</text>
<text x="277.00" y="157.50" font-size="2.4" text-anchor="middle" fill="#888" transform="rotate(-45 277.00 157.50)">-8</text>
<text x="284.50" y="157.50" font-size="2.4" text-anchor="middle" fill="#888" transform="rotate(-45 284.50 157.50)">-8</text>
<text x="291.50" y="157.50" font-size="2.4" text-anchor="middle" fill="#888" transform="rotate(-45 291.50 157.50)">-8</text>
<text x="298.50" y="157.50" font-size="2.4" text-anchor="middle" fill="#888" transform="rotate(-45 298.50 157.50)">-8</text>
<text x="305.50" y="157.50" font-size="2.4" text-anchor="middle" fill="#888" transform="rotate(-45 305.50 157.50)">-8</text>
<text x="312.50" y="157.50" font-size="2.4" text-anchor="middle" fill="#888" transform="rotate(-45 312.50 157.50)">-8</text>
<text x="319.50" y="157.50" font-size="2.4" text-anchor="middle" fill="#888" transform="rotate(-45 319.50 157.50)">-8</text>
<text x="326.50" y="157.50" font-size="2.4" text-anchor="middle" fill="#888" transform="rotate(-45 326.50 157.50)">-8</text>
<line x1="252.60" y1="165.00" x2="269.30" y2="165.00" stroke="#7DB53F" stroke-width="2.3" stroke-linecap="round"/>
<line x1="277.40" y1="165.00" x2="296.70" y2="165.00" stroke="#A8C43C" stroke-width="2.3" stroke-linecap="round"/>
<line x1="305.00" y1="165.00" x2="324.40" y2="165.00" stroke="#B5406A" stroke-width="2.3" stroke-linecap="round"/>
<line x1="332.90" y1="165.00" x2="345.10" y2="165.00" stroke="#3F5D8A" stroke-width="2.3" stroke-linecap="round"/>
<text x="1.30" y="184.60" font-size="5.6" fill="#111" textLength="389.50" lengthAdjust="spacingAndGlyphs">*No FHIT probe is present on current permutation of HELP microarray; FHIT previously shown to have hypermethylated promoter region CpG island</text>
<text x="23.80" y="210.40" font-size="11" font-weight="bold">B</text>
<text x="77.80" y="212.00" font-size="7" font-weight="bold">FLT3</text>
<text x="41.70" y="229.30" font-size="5.6" fill="#333" textLength="61.00" lengthAdjust="spacingAndGlyphs">M+H vs. TEL/AML, <tspan font-style="italic">P</tspan> = .05</text>
<text x="41.70" y="236.00" font-size="5.6" fill="#333" textLength="59.20" lengthAdjust="spacingAndGlyphs">M+H vs. Normals, <tspan font-style="italic">P</tspan> = .02</text>
<text x="22.00" y="257.30" font-size="6.8" text-anchor="middle" font-weight="bold" fill="#333" textLength="20.70" lengthAdjust="spacingAndGlyphs" transform="rotate(-90 22.00 257.30)">2^-(dCT)</text>
<line x1="35.60" y1="221.00" x2="35.60" y2="294.80" stroke="#111" stroke-width="1.1"/>
<line x1="35.10" y1="294.80" x2="136.00" y2="294.80" stroke="#111" stroke-width="1.2"/>
<line x1="33.40" y1="294.80" x2="35.60" y2="294.80" stroke="#111" stroke-width="0.9"/>
<text x="33.00" y="296.60" font-size="5.0" text-anchor="end" font-weight="bold" fill="#222">0.00</text>
<line x1="33.40" y1="285.57" x2="35.60" y2="285.57" stroke="#111" stroke-width="0.9"/>
<text x="33.00" y="287.38" font-size="5.0" text-anchor="end" font-weight="bold" fill="#222">0.01</text>
<line x1="33.40" y1="276.35" x2="35.60" y2="276.35" stroke="#111" stroke-width="0.9"/>
<text x="33.00" y="278.15" font-size="5.0" text-anchor="end" font-weight="bold" fill="#222">0.02</text>
<line x1="33.40" y1="267.12" x2="35.60" y2="267.12" stroke="#111" stroke-width="0.9"/>
<text x="33.00" y="268.93" font-size="5.0" text-anchor="end" font-weight="bold" fill="#222">0.03</text>
<line x1="33.40" y1="257.90" x2="35.60" y2="257.90" stroke="#111" stroke-width="0.9"/>
<text x="33.00" y="259.70" font-size="5.0" text-anchor="end" font-weight="bold" fill="#222">0.04</text>
<line x1="33.40" y1="248.68" x2="35.60" y2="248.68" stroke="#111" stroke-width="0.9"/>
<text x="33.00" y="250.48" font-size="5.0" text-anchor="end" font-weight="bold" fill="#222">0.05</text>
<line x1="33.40" y1="239.45" x2="35.60" y2="239.45" stroke="#111" stroke-width="0.9"/>
<text x="33.00" y="241.25" font-size="5.0" text-anchor="end" font-weight="bold" fill="#222">0.06</text>
<line x1="33.40" y1="230.22" x2="35.60" y2="230.22" stroke="#111" stroke-width="0.9"/>
<text x="33.00" y="232.03" font-size="5.0" text-anchor="end" font-weight="bold" fill="#222">0.07</text>
<line x1="33.40" y1="221.00" x2="35.60" y2="221.00" stroke="#111" stroke-width="0.9"/>
<text x="33.00" y="222.80" font-size="5.0" text-anchor="end" font-weight="bold" fill="#222">0.08</text>
<line x1="52.70" y1="294.80" x2="52.70" y2="297.00" stroke="#111" stroke-width="0.9"/>
<text x="52.70" y="302.10" font-size="6.2" text-anchor="middle" font-weight="bold" fill="#222" textLength="30.90" lengthAdjust="spacingAndGlyphs">Normal Blood</text>
<line x1="85.50" y1="294.80" x2="85.50" y2="297.00" stroke="#111" stroke-width="0.9"/>
<text x="85.50" y="302.10" font-size="6.2" text-anchor="middle" font-weight="bold" fill="#222" textLength="35.80" lengthAdjust="spacingAndGlyphs">TEL/AML-r ALL</text>
<line x1="118.90" y1="294.80" x2="118.90" y2="297.00" stroke="#111" stroke-width="0.9"/>
<text x="118.90" y="302.10" font-size="6.2" text-anchor="middle" font-weight="bold" fill="#222" textLength="20.50" lengthAdjust="spacingAndGlyphs">M+H ALL</text>
<text x="85.85" y="310.90" font-size="6.0" text-anchor="middle" font-weight="bold" fill="#222" textLength="35.50" lengthAdjust="spacingAndGlyphs">Sample Types</text>
<line x1="41.70" y1="289.00" x2="63.60" y2="289.00" stroke="#444" stroke-width="1.1"/>
<line x1="75.00" y1="281.20" x2="96.50" y2="281.20" stroke="#444" stroke-width="1.1"/>
<line x1="108.20" y1="253.80" x2="129.70" y2="253.80" stroke="#444" stroke-width="1.1"/>
<path d="M52.70,277.80 L54.10,279.20 L52.70,280.60 L51.30,279.20Z" fill="#000"/>
<path d="M52.70,288.20 L54.10,289.60 L52.70,291.00 L51.30,289.60Z" fill="#000"/>
<path d="M52.70,292.90 L54.10,294.30 L52.70,295.70 L51.30,294.30Z" fill="#000"/>
<path d="M56.50,291.70 L58.00,294.40 L55.00,294.40Z" fill="#000"/>
<rect x="84.20" y="274.00" width="2.60" height="2.60" fill="#000"/>
<rect x="84.20" y="279.90" width="2.60" height="2.60" fill="#000"/>
<rect x="84.20" y="286.50" width="2.60" height="2.60" fill="#000"/>
<circle cx="115.00" cy="223.30" r="1.35" fill="#000"/>
<circle cx="118.90" cy="223.30" r="1.35" fill="#000"/>
<circle cx="118.90" cy="232.90" r="1.35" fill="#000"/>
<circle cx="118.90" cy="244.70" r="1.35" fill="#000"/>
<circle cx="118.90" cy="269.60" r="1.35" fill="#000"/>
<circle cx="115.00" cy="272.40" r="1.35" fill="#000"/>
<circle cx="118.90" cy="277.20" r="1.35" fill="#000"/>
<circle cx="118.90" cy="288.50" r="1.35" fill="#000"/>
<text x="148.10" y="209.10" font-size="11" font-weight="bold">C</text>
<text x="198.00" y="216.00" font-size="6.6" font-weight="bold" textLength="18.60" lengthAdjust="spacingAndGlyphs">MEIS1</text>
<text x="195.60" y="237.60" font-size="5.6" fill="#333" textLength="60.40" lengthAdjust="spacingAndGlyphs">MLL-<tspan font-style="italic">r</tspan> vs. MLL-wt, <tspan font-style="italic">P</tspan> = .03</text>
<text x="195.60" y="245.20" font-size="5.6" fill="#333" textLength="62.00" lengthAdjust="spacingAndGlyphs">MLL-<tspan font-style="italic">r</tspan> vs. Normals, <tspan font-style="italic">P</tspan> = .53</text>
<text x="260.00" y="305.80" font-size="7.2" fill="#333">10</text>
<line x1="159.60" y1="224.40" x2="159.60" y2="295.20" stroke="#111" stroke-width="1.1"/>
<line x1="159.10" y1="295.20" x2="256.00" y2="295.20" stroke="#111" stroke-width="1.2"/>
<line x1="157.40" y1="295.20" x2="159.60" y2="295.20" stroke="#111" stroke-width="0.9"/>
<text x="157.00" y="297.00" font-size="5.0" text-anchor="end" font-weight="bold" fill="#222">0.00</text>
<line x1="157.40" y1="287.33" x2="159.60" y2="287.33" stroke="#111" stroke-width="0.9"/>
<text x="157.00" y="289.13" font-size="5.0" text-anchor="end" font-weight="bold" fill="#222">0.01</text>
<line x1="157.40" y1="279.47" x2="159.60" y2="279.47" stroke="#111" stroke-width="0.9"/>
<text x="157.00" y="281.27" font-size="5.0" text-anchor="end" font-weight="bold" fill="#222">0.02</text>
<line x1="157.40" y1="271.60" x2="159.60" y2="271.60" stroke="#111" stroke-width="0.9"/>
<text x="157.00" y="273.40" font-size="5.0" text-anchor="end" font-weight="bold" fill="#222">0.03</text>
<line x1="157.40" y1="263.73" x2="159.60" y2="263.73" stroke="#111" stroke-width="0.9"/>
<text x="157.00" y="265.53" font-size="5.0" text-anchor="end" font-weight="bold" fill="#222">0.04</text>
<line x1="157.40" y1="255.87" x2="159.60" y2="255.87" stroke="#111" stroke-width="0.9"/>
<text x="157.00" y="257.67" font-size="5.0" text-anchor="end" font-weight="bold" fill="#222">0.05</text>
<line x1="157.40" y1="248.00" x2="159.60" y2="248.00" stroke="#111" stroke-width="0.9"/>
<text x="157.00" y="249.80" font-size="5.0" text-anchor="end" font-weight="bold" fill="#222">0.06</text>
<line x1="157.40" y1="240.13" x2="159.60" y2="240.13" stroke="#111" stroke-width="0.9"/>
<text x="157.00" y="241.93" font-size="5.0" text-anchor="end" font-weight="bold" fill="#222">0.07</text>
<line x1="157.40" y1="232.27" x2="159.60" y2="232.27" stroke="#111" stroke-width="0.9"/>
<text x="157.00" y="234.07" font-size="5.0" text-anchor="end" font-weight="bold" fill="#222">0.08</text>
<line x1="157.40" y1="224.40" x2="159.60" y2="224.40" stroke="#111" stroke-width="0.9"/>
<text x="157.00" y="226.20" font-size="5.0" text-anchor="end" font-weight="bold" fill="#222">0.09</text>
<line x1="176.00" y1="295.20" x2="176.00" y2="297.40" stroke="#111" stroke-width="0.9"/>
<text x="176.00" y="302.50" font-size="6.2" text-anchor="middle" font-weight="bold" fill="#222" textLength="23.70" lengthAdjust="spacingAndGlyphs">MLL-r ALL</text>
<line x1="208.00" y1="295.20" x2="208.00" y2="297.40" stroke="#111" stroke-width="0.9"/>
<text x="208.00" y="302.50" font-size="6.2" text-anchor="middle" font-weight="bold" fill="#222" textLength="31.00" lengthAdjust="spacingAndGlyphs">Normal Blood</text>
<line x1="240.00" y1="295.20" x2="240.00" y2="297.40" stroke="#111" stroke-width="0.9"/>
<text x="240.00" y="302.50" font-size="6.2" text-anchor="middle" font-weight="bold" fill="#222" textLength="25.80" lengthAdjust="spacingAndGlyphs">MLL-wt ALL</text>
<text x="207.90" y="310.60" font-size="6.0" text-anchor="middle" font-weight="bold" fill="#222" textLength="31.50" lengthAdjust="spacingAndGlyphs">Sample Type</text>
<line x1="165.40" y1="263.20" x2="186.70" y2="263.20" stroke="#444" stroke-width="1.1"/>
<line x1="197.70" y1="275.90" x2="218.70" y2="275.90" stroke="#444" stroke-width="1.1"/>
<line x1="230.00" y1="294.80" x2="250.00" y2="294.80" stroke="#444" stroke-width="1.1"/>
<rect x="174.70" y="237.30" width="2.60" height="2.60" fill="#000"/>
<rect x="174.70" y="254.10" width="2.60" height="2.60" fill="#000"/>
<rect x="178.50" y="254.10" width="2.60" height="2.60" fill="#000"/>
<rect x="174.70" y="272.50" width="2.60" height="2.60" fill="#000"/>
<rect x="174.70" y="291.90" width="2.60" height="2.60" fill="#000"/>
<rect x="174.70" y="293.50" width="2.60" height="2.60" fill="#000"/>
<circle cx="208.00" cy="225.60" r="1.35" fill="#000"/>
<path d="M204.20,290.60 L205.60,292.00 L204.20,293.40 L202.80,292.00Z" fill="#000"/>
<path d="M208.00,293.00 L209.40,294.40 L208.00,295.80 L206.60,294.40Z" fill="#000"/>
<path d="M211.70,291.10 L213.10,292.50 L211.70,293.90 L210.30,292.50Z" fill="#000"/>
<path d="M231.50,293.40 L232.90,294.80 L231.50,296.20 L230.10,294.80Z" fill="#000"/>
<path d="M234.50,293.40 L235.90,294.80 L234.50,296.20 L233.10,294.80Z" fill="#000"/>
<path d="M237.50,293.20 L238.90,294.60 L237.50,296.00 L236.10,294.60Z" fill="#000"/>
<path d="M240.50,292.90 L241.90,294.30 L240.50,295.70 L239.10,294.30Z" fill="#000"/>
<path d="M243.00,293.10 L244.40,294.50 L243.00,295.90 L241.60,294.50Z" fill="#000"/>
<path d="M246.00,293.40 L247.40,294.80 L246.00,296.20 L244.60,294.80Z" fill="#000"/>
<path d="M249.00,293.40 L250.40,294.80 L249.00,296.20 L247.60,294.80Z" fill="#000"/>
<text x="268.30" y="209.10" font-size="11" font-weight="bold">D</text>
<text x="327.40" y="215.90" font-size="6.8" font-weight="bold" textLength="14.10" lengthAdjust="spacingAndGlyphs">FHIT</text>
<text x="295.30" y="229.30" font-size="5.6" fill="#333" textLength="59.40" lengthAdjust="spacingAndGlyphs">MLL-<tspan font-style="italic">r</tspan> vs. MLL-wt, <tspan font-style="italic">P</tspan> = .02</text>
<text x="295.30" y="236.30" font-size="5.6" fill="#333" textLength="61.00" lengthAdjust="spacingAndGlyphs">MLL-<tspan font-style="italic">r</tspan> vs. Normals, <tspan font-style="italic">P</tspan> = .11</text>
<line x1="284.50" y1="224.30" x2="284.50" y2="295.90" stroke="#111" stroke-width="1.1"/>
<line x1="284.00" y1="295.90" x2="388.80" y2="295.90" stroke="#111" stroke-width="1.2"/>
<line x1="282.30" y1="295.90" x2="284.50" y2="295.90" stroke="#111" stroke-width="0.9"/>
<text x="281.90" y="297.70" font-size="5.0" text-anchor="end" font-weight="bold" fill="#222">0.000</text>
<line x1="282.30" y1="287.94" x2="284.50" y2="287.94" stroke="#111" stroke-width="0.9"/>
<text x="281.90" y="289.74" font-size="5.0" text-anchor="end" font-weight="bold" fill="#222">0.005</text>
<line x1="282.30" y1="279.99" x2="284.50" y2="279.99" stroke="#111" stroke-width="0.9"/>
<text x="281.90" y="281.79" font-size="5.0" text-anchor="end" font-weight="bold" fill="#222">0.010</text>
<line x1="282.30" y1="272.03" x2="284.50" y2="272.03" stroke="#111" stroke-width="0.9"/>
<text x="281.90" y="273.83" font-size="5.0" text-anchor="end" font-weight="bold" fill="#222">0.015</text>
<line x1="282.30" y1="264.08" x2="284.50" y2="264.08" stroke="#111" stroke-width="0.9"/>
<text x="281.90" y="265.88" font-size="5.0" text-anchor="end" font-weight="bold" fill="#222">0.020</text>
<line x1="282.30" y1="256.12" x2="284.50" y2="256.12" stroke="#111" stroke-width="0.9"/>
<text x="281.90" y="257.92" font-size="5.0" text-anchor="end" font-weight="bold" fill="#222">0.025</text>
<line x1="282.30" y1="248.17" x2="284.50" y2="248.17" stroke="#111" stroke-width="0.9"/>
<text x="281.90" y="249.97" font-size="5.0" text-anchor="end" font-weight="bold" fill="#222">0.030</text>
<line x1="282.30" y1="240.21" x2="284.50" y2="240.21" stroke="#111" stroke-width="0.9"/>
<text x="281.90" y="242.01" font-size="5.0" text-anchor="end" font-weight="bold" fill="#222">0.035</text>
<line x1="282.30" y1="232.26" x2="284.50" y2="232.26" stroke="#111" stroke-width="0.9"/>
<text x="281.90" y="234.06" font-size="5.0" text-anchor="end" font-weight="bold" fill="#222">0.040</text>
<line x1="282.30" y1="224.30" x2="284.50" y2="224.30" stroke="#111" stroke-width="0.9"/>
<text x="281.90" y="226.10" font-size="5.0" text-anchor="end" font-weight="bold" fill="#222">0.045</text>
<line x1="301.20" y1="295.90" x2="301.20" y2="298.10" stroke="#111" stroke-width="0.9"/>
<text x="301.20" y="303.20" font-size="6.2" text-anchor="middle" font-weight="bold" fill="#222" textLength="23.90" lengthAdjust="spacingAndGlyphs">MLL-r ALL</text>
<line x1="336.00" y1="295.90" x2="336.00" y2="298.10" stroke="#111" stroke-width="0.9"/>
<text x="336.00" y="303.20" font-size="6.2" text-anchor="middle" font-weight="bold" fill="#222" textLength="32.80" lengthAdjust="spacingAndGlyphs">Normal Blood</text>
<line x1="370.90" y1="295.90" x2="370.90" y2="298.10" stroke="#111" stroke-width="0.9"/>
<text x="370.90" y="303.20" font-size="6.2" text-anchor="middle" font-weight="bold" fill="#222" textLength="28.10" lengthAdjust="spacingAndGlyphs">MLL-wt ALL</text>
<text x="336.20" y="311.30" font-size="6.0" text-anchor="middle" font-weight="bold" fill="#222" textLength="33.90" lengthAdjust="spacingAndGlyphs">Sample Type</text>
<line x1="292.00" y1="295.40" x2="311.00" y2="295.40" stroke="#444" stroke-width="1.1"/>
<line x1="325.00" y1="287.00" x2="347.70" y2="287.00" stroke="#444" stroke-width="1.1"/>
<line x1="360.10" y1="261.00" x2="382.20" y2="261.00" stroke="#444" stroke-width="1.1"/>
<path d="M293.00,293.90 L294.40,295.30 L293.00,296.70 L291.60,295.30Z" fill="#000"/>
<path d="M296.00,293.90 L297.40,295.30 L296.00,296.70 L294.60,295.30Z" fill="#000"/>
<path d="M299.00,293.90 L300.40,295.30 L299.00,296.70 L297.60,295.30Z" fill="#000"/>
<path d="M302.00,293.90 L303.40,295.30 L302.00,296.70 L300.60,295.30Z" fill="#000"/>
<path d="M305.00,293.90 L306.40,295.30 L305.00,296.70 L303.60,295.30Z" fill="#000"/>
<path d="M308.00,293.90 L309.40,295.30 L308.00,296.70 L306.60,295.30Z" fill="#000"/>
<path d="M311.00,293.90 L312.40,295.30 L311.00,296.70 L309.60,295.30Z" fill="#000"/>
<circle cx="336.00" cy="275.80" r="1.35" fill="#000"/>
<path d="M332.20,288.10 L333.60,289.50 L332.20,290.90 L330.80,289.50Z" fill="#000"/>
<path d="M336.00,289.70 L337.50,292.40 L334.50,292.40Z" fill="#000"/>
<path d="M340.70,289.70 L342.20,292.40 L339.20,292.40Z" fill="#000"/>
<circle cx="370.90" cy="230.30" r="1.35" fill="#000"/>
<circle cx="366.80" cy="242.80" r="1.35" fill="#000"/>
<circle cx="370.90" cy="246.40" r="1.35" fill="#000"/>
<circle cx="370.90" cy="269.50" r="1.35" fill="#000"/>
<circle cx="370.90" cy="284.90" r="1.35" fill="#000"/>
<circle cx="370.90" cy="291.60" r="1.35" fill="#000"/>
<text x="399.80" y="210.90" font-size="11" font-weight="bold">E</text>
<text x="454.20" y="220.30" font-size="7" font-weight="bold" textLength="20.90" lengthAdjust="spacingAndGlyphs">DAPK1</text>
<text x="451.00" y="229.10" font-size="5.6" fill="#333" textLength="60.20" lengthAdjust="spacingAndGlyphs">MLL-<tspan font-style="italic">r</tspan> vs. MLL-wt, <tspan font-style="italic">P</tspan> &lt; .01</text>
<text x="451.00" y="236.30" font-size="5.6" fill="#333" textLength="62.30" lengthAdjust="spacingAndGlyphs">MLL-<tspan font-style="italic">r</tspan> vs. Normals, <tspan font-style="italic">P</tspan> &lt; .08</text>
<text x="397.00" y="261.80" font-size="5.0" text-anchor="middle" fill="#333" textLength="18.80" lengthAdjust="spacingAndGlyphs" transform="rotate(-90 397.00 261.80)">2(-dCt)</text>
<line x1="415.70" y1="227.70" x2="415.70" y2="296.10" stroke="#111" stroke-width="1.1"/>
<line x1="415.20" y1="296.10" x2="518.00" y2="296.10" stroke="#111" stroke-width="1.2"/>
<line x1="413.50" y1="296.10" x2="415.70" y2="296.10" stroke="#111" stroke-width="0.9"/>
<text x="413.10" y="297.90" font-size="4.8" text-anchor="end" font-weight="bold" fill="#222">0.000</text>
<line x1="413.50" y1="282.42" x2="415.70" y2="282.42" stroke="#111" stroke-width="0.9"/>
<text x="413.10" y="284.22" font-size="4.8" text-anchor="end" font-weight="bold" fill="#222">0.025</text>
<line x1="413.50" y1="268.74" x2="415.70" y2="268.74" stroke="#111" stroke-width="0.9"/>
<text x="413.10" y="270.54" font-size="4.8" text-anchor="end" font-weight="bold" fill="#222">0.050</text>
<line x1="413.50" y1="255.06" x2="415.70" y2="255.06" stroke="#111" stroke-width="0.9"/>
<text x="413.10" y="256.86" font-size="4.8" text-anchor="end" font-weight="bold" fill="#222">0.075</text>
<line x1="413.50" y1="241.38" x2="415.70" y2="241.38" stroke="#111" stroke-width="0.9"/>
<text x="413.10" y="243.18" font-size="4.8" text-anchor="end" font-weight="bold" fill="#222">0.100</text>
<line x1="413.50" y1="227.70" x2="415.70" y2="227.70" stroke="#111" stroke-width="0.9"/>
<text x="413.10" y="229.50" font-size="4.8" text-anchor="end" font-weight="bold" fill="#222">0.125</text>
<line x1="432.40" y1="296.10" x2="432.40" y2="298.30" stroke="#111" stroke-width="0.9"/>
<text x="432.40" y="303.40" font-size="6.2" text-anchor="middle" font-weight="bold" fill="#222" textLength="23.90" lengthAdjust="spacingAndGlyphs">MLL-r ALL</text>
<line x1="466.60" y1="296.10" x2="466.60" y2="298.30" stroke="#111" stroke-width="0.9"/>
<text x="466.60" y="303.40" font-size="6.2" text-anchor="middle" font-weight="bold" fill="#222" textLength="32.20" lengthAdjust="spacingAndGlyphs">Normal Blood</text>
<line x1="500.70" y1="296.10" x2="500.70" y2="298.30" stroke="#111" stroke-width="0.9"/>
<text x="500.70" y="303.40" font-size="6.2" text-anchor="middle" font-weight="bold" fill="#222" textLength="27.60" lengthAdjust="spacingAndGlyphs">MLL-wt ALL</text>
<text x="466.80" y="311.00" font-size="6.0" text-anchor="middle" font-weight="bold" fill="#222" textLength="36.10" lengthAdjust="spacingAndGlyphs">Sample Types</text>
<line x1="420.70" y1="294.50" x2="444.20" y2="294.50" stroke="#444" stroke-width="1.1"/>
<line x1="456.10" y1="264.10" x2="478.20" y2="264.10" stroke="#444" stroke-width="1.1"/>
<line x1="490.20" y1="275.40" x2="511.70" y2="275.40" stroke="#444" stroke-width="1.1"/>
<rect x="423.40" y="291.10" width="2.60" height="2.60" fill="#000"/>
<path d="M428.00,294.10 L429.40,295.50 L428.00,296.90 L426.60,295.50Z" fill="#000"/>
<path d="M431.00,294.10 L432.40,295.50 L431.00,296.90 L429.60,295.50Z" fill="#000"/>
<path d="M434.00,294.10 L435.40,295.50 L434.00,296.90 L432.60,295.50Z" fill="#000"/>
<path d="M437.00,294.10 L438.40,295.50 L437.00,296.90 L435.60,295.50Z" fill="#000"/>
<path d="M440.00,294.10 L441.40,295.50 L440.00,296.90 L438.60,295.50Z" fill="#000"/>
<circle cx="466.60" cy="236.70" r="1.35" fill="#000"/>
<circle cx="466.60" cy="257.00" r="1.35" fill="#000"/>
<circle cx="466.60" cy="270.20" r="1.35" fill="#000"/>
<circle cx="466.60" cy="292.80" r="1.35" fill="#000"/>
<circle cx="500.70" cy="262.20" r="1.35" fill="#000"/>
<circle cx="500.70" cy="268.30" r="1.35" fill="#000"/>
<circle cx="496.70" cy="279.10" r="1.35" fill="#000"/>
<circle cx="500.70" cy="280.20" r="1.35" fill="#000"/>
<circle cx="504.70" cy="277.80" r="1.35" fill="#000"/>
<circle cx="500.70" cy="286.30" r="1.35" fill="#000"/>
<text x="4.00" y="332.20" font-size="9.3" font-weight="bold" textLength="6.90" lengthAdjust="spacingAndGlyphs">F</text>
<line x1="38.00" y1="433.30" x2="155.60" y2="433.30" stroke="#8C8C8C" stroke-width="0.7"/>
<text x="33.40" y="435.70" font-size="6.9" text-anchor="end" fill="#222">0</text>
<line x1="38.00" y1="419.33" x2="155.60" y2="419.33" stroke="#8C8C8C" stroke-width="0.7"/>
<text x="33.40" y="421.73" font-size="6.9" text-anchor="end" fill="#222">2000</text>
<line x1="38.00" y1="405.37" x2="155.60" y2="405.37" stroke="#8C8C8C" stroke-width="0.7"/>
<text x="33.40" y="407.77" font-size="6.9" text-anchor="end" fill="#222">4000</text>
<line x1="38.00" y1="391.40" x2="155.60" y2="391.40" stroke="#8C8C8C" stroke-width="0.7"/>
<text x="33.40" y="393.80" font-size="6.9" text-anchor="end" fill="#222">6000</text>
<line x1="38.00" y1="377.43" x2="155.60" y2="377.43" stroke="#8C8C8C" stroke-width="0.7"/>
<text x="33.40" y="379.83" font-size="6.9" text-anchor="end" fill="#222">8000</text>
<line x1="38.00" y1="363.47" x2="155.60" y2="363.47" stroke="#8C8C8C" stroke-width="0.7"/>
<text x="33.40" y="365.87" font-size="6.9" text-anchor="end" fill="#222">10000</text>
<line x1="38.00" y1="349.50" x2="155.60" y2="349.50" stroke="#8C8C8C" stroke-width="0.7"/>
<text x="33.40" y="351.90" font-size="6.9" text-anchor="end" fill="#222">12000</text>
<line x1="40.60" y1="349.50" x2="40.60" y2="433.30" stroke="#8C8C8C" stroke-width="0.8"/>
<rect x="43.48" y="405.35" width="3.51" height="27.95" fill="#4F81BD"/>
<rect x="46.99" y="422.23" width="3.51" height="11.07" fill="#C0504D"/>
<text x="50.99" y="440.50" font-size="6.9" text-anchor="end" fill="#222" transform="rotate(-90 50.99 440.50)">A-FLT3</text>
<rect x="56.25" y="419.04" width="3.51" height="14.26" fill="#4F81BD"/>
<text x="63.77" y="440.50" font-size="6.9" text-anchor="end" fill="#222" transform="rotate(-90 63.77 440.50)">A-MEIS1</text>
<rect x="69.03" y="418.24" width="3.51" height="15.06" fill="#4F81BD"/>
<text x="76.54" y="440.50" font-size="6.9" text-anchor="end" fill="#222" transform="rotate(-90 76.54 440.50)">A-HOXa9</text>
<rect x="81.81" y="363.07" width="3.51" height="70.23" fill="#4F81BD"/>
<rect x="85.32" y="411.83" width="3.51" height="21.47" fill="#C0504D"/>
<text x="89.32" y="440.50" font-size="6.9" text-anchor="end" fill="#222" transform="rotate(-90 89.32 440.50)">Y-FLT3</text>
<rect x="94.59" y="399.58" width="3.51" height="33.72" fill="#4F81BD"/>
<text x="102.10" y="440.50" font-size="6.9" text-anchor="end" fill="#222" transform="rotate(-90 102.10 440.50)">Y-MEIS1</text>
<rect x="107.36" y="399.09" width="3.51" height="34.21" fill="#4F81BD"/>
<rect x="110.88" y="430.68" width="3.51" height="2.62" fill="#C0504D"/>
<text x="114.88" y="440.50" font-size="6.9" text-anchor="end" fill="#222" transform="rotate(-90 114.88 440.50)">Y-HOXa9</text>
<rect x="120.14" y="397.16" width="3.51" height="36.14" fill="#4F81BD"/>
<rect x="123.66" y="427.11" width="3.51" height="6.19" fill="#C0504D"/>
<text x="127.66" y="440.50" font-size="6.9" text-anchor="end" fill="#222" transform="rotate(-90 127.66 440.50)">R-FLT3</text>
<rect x="132.92" y="416.06" width="3.51" height="17.24" fill="#4F81BD"/>
<rect x="136.43" y="432.66" width="3.51" height="0.64" fill="#C0504D"/>
<text x="140.43" y="440.50" font-size="6.9" text-anchor="end" fill="#222" transform="rotate(-90 140.43 440.50)">R-MEIS1</text>
<rect x="145.70" y="420.76" width="3.51" height="12.54" fill="#4F81BD"/>
<rect x="149.21" y="433.02" width="3.51" height="0.28" fill="#C0504D"/>
<text x="153.21" y="440.50" font-size="6.9" text-anchor="end" fill="#222" transform="rotate(-90 153.21 440.50)">R-HOXa9</text>
<line x1="38.00" y1="433.30" x2="155.60" y2="433.30" stroke="#8C8C8C" stroke-width="0.8"/>
<text x="28.60" y="336.00" font-size="11.5" font-weight="bold" textLength="129.60" lengthAdjust="spacingAndGlyphs">Predicted Up-regulated</text>
<text x="8.00" y="391.00" font-size="7.3" text-anchor="middle" font-weight="bold" fill="#111" textLength="68.00" lengthAdjust="spacingAndGlyphs" transform="rotate(-90 8.00 391.00)">Relative Flourescence</text>
<text x="98.20" y="481.30" font-size="7.4" text-anchor="middle" font-weight="bold" fill="#111" textLength="36.00" lengthAdjust="spacingAndGlyphs">Array-Gene</text>
<line x1="208.40" y1="433.40" x2="320.40" y2="433.40" stroke="#8C8C8C" stroke-width="0.7"/>
<text x="203.80" y="435.80" font-size="6.9" text-anchor="end" fill="#222">0</text>
<line x1="208.40" y1="421.43" x2="320.40" y2="421.43" stroke="#8C8C8C" stroke-width="0.7"/>
<text x="203.80" y="423.83" font-size="6.9" text-anchor="end" fill="#222">1000</text>
<line x1="208.40" y1="409.46" x2="320.40" y2="409.46" stroke="#8C8C8C" stroke-width="0.7"/>
<text x="203.80" y="411.86" font-size="6.9" text-anchor="end" fill="#222">2000</text>
<line x1="208.40" y1="397.49" x2="320.40" y2="397.49" stroke="#8C8C8C" stroke-width="0.7"/>
<text x="203.80" y="399.89" font-size="6.9" text-anchor="end" fill="#222">3000</text>
<line x1="208.40" y1="385.51" x2="320.40" y2="385.51" stroke="#8C8C8C" stroke-width="0.7"/>
<text x="203.80" y="387.91" font-size="6.9" text-anchor="end" fill="#222">4000</text>
<line x1="208.40" y1="373.54" x2="320.40" y2="373.54" stroke="#8C8C8C" stroke-width="0.7"/>
<text x="203.80" y="375.94" font-size="6.9" text-anchor="end" fill="#222">5000</text>
<line x1="208.40" y1="361.57" x2="320.40" y2="361.57" stroke="#8C8C8C" stroke-width="0.7"/>
<text x="203.80" y="363.97" font-size="6.9" text-anchor="end" fill="#222">6000</text>
<line x1="208.40" y1="349.60" x2="320.40" y2="349.60" stroke="#8C8C8C" stroke-width="0.7"/>
<text x="203.80" y="352.00" font-size="6.9" text-anchor="end" fill="#222">7000</text>
<line x1="211.00" y1="349.60" x2="211.00" y2="433.40" stroke="#8C8C8C" stroke-width="0.8"/>
<rect x="213.74" y="401.71" width="3.34" height="31.69" fill="#4F81BD"/>
<rect x="217.08" y="393.08" width="3.34" height="40.32" fill="#C0504D"/>
<text x="221.08" y="440.60" font-size="6.9" text-anchor="end" fill="#222" transform="rotate(-90 221.08 440.60)">A-DAXX</text>
<rect x="229.23" y="432.33" width="3.34" height="1.07" fill="#C0504D"/>
<text x="233.23" y="440.60" font-size="6.9" text-anchor="end" fill="#222" transform="rotate(-90 233.23 440.60)">A-LIFR</text>
<rect x="238.05" y="426.71" width="3.34" height="6.69" fill="#4F81BD"/>
<rect x="241.39" y="427.43" width="3.34" height="5.97" fill="#C0504D"/>
<text x="245.39" y="440.60" font-size="6.9" text-anchor="end" fill="#222" transform="rotate(-90 245.39 440.60)">A-CASP9</text>
<rect x="250.20" y="369.90" width="3.34" height="63.50" fill="#4F81BD"/>
<rect x="253.54" y="354.84" width="3.34" height="78.56" fill="#C0504D"/>
<text x="257.54" y="440.60" font-size="6.9" text-anchor="end" fill="#222" transform="rotate(-90 257.54 440.60)">Y-DAXX</text>
<rect x="262.36" y="432.41" width="3.34" height="0.99" fill="#4F81BD"/>
<rect x="265.70" y="429.38" width="3.34" height="4.02" fill="#C0504D"/>
<text x="269.70" y="440.60" font-size="6.9" text-anchor="end" fill="#222" transform="rotate(-90 269.70 440.60)">Y-LIFR</text>
<rect x="274.51" y="418.04" width="3.34" height="15.36" fill="#4F81BD"/>
<rect x="277.86" y="414.26" width="3.34" height="19.14" fill="#C0504D"/>
<text x="281.86" y="440.60" font-size="6.9" text-anchor="end" fill="#222" transform="rotate(-90 281.86 440.60)">Y-CASP9</text>
<rect x="286.67" y="428.30" width="3.34" height="5.10" fill="#4F81BD"/>
<rect x="290.01" y="427.26" width="3.34" height="6.14" fill="#C0504D"/>
<text x="294.01" y="440.60" font-size="6.9" text-anchor="end" fill="#222" transform="rotate(-90 294.01 440.60)">R-DAXX</text>
<rect x="298.82" y="432.68" width="3.34" height="0.72" fill="#4F81BD"/>
<rect x="302.17" y="432.68" width="3.34" height="0.72" fill="#C0504D"/>
<text x="306.17" y="440.60" font-size="6.9" text-anchor="end" fill="#222" transform="rotate(-90 306.17 440.60)">R-LIFR</text>
<rect x="310.98" y="426.17" width="3.34" height="7.23" fill="#4F81BD"/>
<rect x="314.32" y="427.03" width="3.34" height="6.37" fill="#C0504D"/>
<text x="318.32" y="440.60" font-size="6.9" text-anchor="end" fill="#222" transform="rotate(-90 318.32 440.60)">R-CASP9</text>
<line x1="208.40" y1="433.40" x2="320.40" y2="433.40" stroke="#8C8C8C" stroke-width="0.8"/>
<text x="208.50" y="336.00" font-size="11.5" font-weight="bold" textLength="117.70" lengthAdjust="spacingAndGlyphs">Predicted Equivalent</text>
<text x="181.00" y="391.00" font-size="7.3" text-anchor="middle" font-weight="bold" fill="#111" textLength="68.00" lengthAdjust="spacingAndGlyphs" transform="rotate(-90 181.00 391.00)">Relative Flourescence</text>
<text x="265.90" y="481.30" font-size="7.4" text-anchor="middle" font-weight="bold" fill="#111" textLength="36.00" lengthAdjust="spacingAndGlyphs">Array-Gene</text>
<line x1="378.30" y1="432.20" x2="513.50" y2="432.20" stroke="#8C8C8C" stroke-width="0.7"/>
<text x="373.70" y="434.60" font-size="6.9" text-anchor="end" fill="#222">0</text>
<line x1="378.30" y1="421.86" x2="513.50" y2="421.86" stroke="#8C8C8C" stroke-width="0.7"/>
<text x="373.70" y="424.26" font-size="6.9" text-anchor="end" fill="#222">500</text>
<line x1="378.30" y1="411.52" x2="513.50" y2="411.52" stroke="#8C8C8C" stroke-width="0.7"/>
<text x="373.70" y="413.92" font-size="6.9" text-anchor="end" fill="#222">1000</text>
<line x1="378.30" y1="401.19" x2="513.50" y2="401.19" stroke="#8C8C8C" stroke-width="0.7"/>
<text x="373.70" y="403.59" font-size="6.9" text-anchor="end" fill="#222">1500</text>
<line x1="378.30" y1="390.85" x2="513.50" y2="390.85" stroke="#8C8C8C" stroke-width="0.7"/>
<text x="373.70" y="393.25" font-size="6.9" text-anchor="end" fill="#222">2000</text>
<line x1="378.30" y1="380.51" x2="513.50" y2="380.51" stroke="#8C8C8C" stroke-width="0.7"/>
<text x="373.70" y="382.91" font-size="6.9" text-anchor="end" fill="#222">2500</text>
<line x1="378.30" y1="370.18" x2="513.50" y2="370.18" stroke="#8C8C8C" stroke-width="0.7"/>
<text x="373.70" y="372.57" font-size="6.9" text-anchor="end" fill="#222">3000</text>
<line x1="378.30" y1="359.84" x2="513.50" y2="359.84" stroke="#8C8C8C" stroke-width="0.7"/>
<text x="373.70" y="362.24" font-size="6.9" text-anchor="end" fill="#222">3500</text>
<line x1="378.30" y1="349.50" x2="513.50" y2="349.50" stroke="#8C8C8C" stroke-width="0.7"/>
<text x="373.70" y="351.90" font-size="6.9" text-anchor="end" fill="#222">4000</text>
<line x1="380.90" y1="349.50" x2="380.90" y2="432.20" stroke="#8C8C8C" stroke-width="0.8"/>
<rect x="383.39" y="415.85" width="3.04" height="16.35" fill="#4F81BD"/>
<rect x="386.42" y="381.03" width="3.04" height="51.17" fill="#C0504D"/>
<text x="390.42" y="439.40" font-size="6.9" text-anchor="end" fill="#222" transform="rotate(-90 390.42 439.40)">A-FHIT</text>
<rect x="394.44" y="427.78" width="3.04" height="4.42" fill="#4F81BD"/>
<rect x="397.47" y="415.37" width="3.04" height="16.83" fill="#C0504D"/>
<text x="401.47" y="439.40" font-size="6.9" text-anchor="end" fill="#222" transform="rotate(-90 401.47 439.40)">A-DAPK1</text>
<rect x="408.52" y="431.27" width="3.04" height="0.93" fill="#C0504D"/>
<text x="412.52" y="439.40" font-size="6.9" text-anchor="end" fill="#222" transform="rotate(-90 412.52 439.40)">A-CCR6</text>
<rect x="416.54" y="423.79" width="3.04" height="8.41" fill="#4F81BD"/>
<rect x="419.57" y="415.87" width="3.04" height="16.33" fill="#C0504D"/>
<text x="423.57" y="439.40" font-size="6.9" text-anchor="end" fill="#222" transform="rotate(-90 423.57 439.40)">A-HRK</text>
<rect x="427.59" y="399.31" width="3.04" height="32.89" fill="#4F81BD"/>
<rect x="430.62" y="353.68" width="3.04" height="78.52" fill="#C0504D"/>
<text x="434.62" y="439.40" font-size="6.9" text-anchor="end" fill="#222" transform="rotate(-90 434.62 439.40)">Y-FHIT</text>
<rect x="438.64" y="419.98" width="3.04" height="12.22" fill="#4F81BD"/>
<rect x="441.67" y="366.58" width="3.04" height="65.62" fill="#C0504D"/>
<text x="445.67" y="439.40" font-size="6.9" text-anchor="end" fill="#222" transform="rotate(-90 445.67 439.40)">Y-DAPK1</text>
<rect x="449.69" y="429.31" width="3.04" height="2.89" fill="#4F81BD"/>
<rect x="452.72" y="425.40" width="3.04" height="6.80" fill="#C0504D"/>
<text x="456.72" y="439.40" font-size="6.9" text-anchor="end" fill="#222" transform="rotate(-90 456.72 439.40)">Y-CCR6</text>
<rect x="460.74" y="414.34" width="3.04" height="17.86" fill="#4F81BD"/>
<rect x="463.77" y="386.82" width="3.04" height="45.38" fill="#C0504D"/>
<text x="467.77" y="439.40" font-size="6.9" text-anchor="end" fill="#222" transform="rotate(-90 467.77 439.40)">Y-HRK</text>
<rect x="471.79" y="428.48" width="3.04" height="3.72" fill="#4F81BD"/>
<rect x="474.82" y="406.83" width="3.04" height="25.37" fill="#C0504D"/>
<text x="478.82" y="439.40" font-size="6.9" text-anchor="end" fill="#222" transform="rotate(-90 478.82 439.40)">R-FHIT</text>
<rect x="482.84" y="426.25" width="3.04" height="5.95" fill="#4F81BD"/>
<rect x="485.88" y="415.45" width="3.04" height="16.75" fill="#C0504D"/>
<text x="489.88" y="439.40" font-size="6.9" text-anchor="end" fill="#222" transform="rotate(-90 489.88 439.40)">R-DAPK1</text>
<rect x="493.89" y="430.28" width="3.04" height="1.92" fill="#4F81BD"/>
<rect x="496.92" y="428.33" width="3.04" height="3.87" fill="#C0504D"/>
<text x="500.92" y="439.40" font-size="6.9" text-anchor="end" fill="#222" transform="rotate(-90 500.92 439.40)">R-CCR6</text>
<rect x="504.94" y="430.84" width="3.04" height="1.36" fill="#4F81BD"/>
<rect x="507.97" y="428.38" width="3.04" height="3.82" fill="#C0504D"/>
<text x="511.97" y="439.40" font-size="6.9" text-anchor="end" fill="#222" transform="rotate(-90 511.97 439.40)">R-HRK</text>
<line x1="378.30" y1="432.20" x2="513.50" y2="432.20" stroke="#8C8C8C" stroke-width="0.8"/>
<text x="369.20" y="336.00" font-size="11.5" font-weight="bold" textLength="147.80" lengthAdjust="spacingAndGlyphs">Predicted Down-regulated</text>
<text x="351.60" y="391.00" font-size="7.3" text-anchor="middle" font-weight="bold" fill="#111" textLength="68.00" lengthAdjust="spacingAndGlyphs" transform="rotate(-90 351.60 391.00)">Relative Flourescence</text>
<text x="447.50" y="481.30" font-size="7.4" text-anchor="middle" font-weight="bold" fill="#111" textLength="36.00" lengthAdjust="spacingAndGlyphs">Array-Gene</text>
<rect x="170.80" y="470.90" width="4.00" height="4.10" fill="#4F81BD"/>
<text x="177.10" y="475.20" font-size="6.8" fill="#111">MLL-<tspan font-style="italic">r</tspan></text>
<rect x="170.80" y="482.50" width="4.00" height="4.10" fill="#C0504D"/>
<text x="177.10" y="486.70" font-size="6.8" fill="#111">MLL-wt</text>
<rect x="340.80" y="470.90" width="4.00" height="4.10" fill="#4F81BD"/>
<text x="347.10" y="475.20" font-size="6.8" fill="#111">MLL-<tspan font-style="italic">r</tspan></text>
<rect x="340.80" y="482.50" width="4.00" height="4.10" fill="#C0504D"/>
<text x="347.10" y="486.70" font-size="6.8" fill="#111">MLL-wt</text>
<text x="34.00" y="509.50" font-size="11.6" font-weight="bold" textLength="10.40" lengthAdjust="spacingAndGlyphs">G</text>
<line x1="54.30" y1="501.20" x2="481.00" y2="501.20" stroke="#D4D4D4" stroke-width="0.6"/>
<line x1="54.30" y1="511.20" x2="481.00" y2="511.20" stroke="#D4D4D4" stroke-width="0.6"/>
<line x1="54.30" y1="521.20" x2="481.00" y2="521.20" stroke="#D4D4D4" stroke-width="0.6"/>
<line x1="54.30" y1="531.20" x2="481.00" y2="531.20" stroke="#D4D4D4" stroke-width="0.6"/>
<line x1="54.30" y1="501.20" x2="54.30" y2="531.20" stroke="#D4D4D4" stroke-width="0.6"/>
<line x1="87.30" y1="501.20" x2="87.30" y2="531.20" stroke="#D4D4D4" stroke-width="0.6"/>
<line x1="219.00" y1="501.20" x2="219.00" y2="531.20" stroke="#D4D4D4" stroke-width="0.6"/>
<line x1="349.00" y1="501.20" x2="349.00" y2="531.20" stroke="#D4D4D4" stroke-width="0.6"/>
<line x1="54.30" y1="641.20" x2="481.00" y2="641.20" stroke="#D4D4D4" stroke-width="0.6"/>
<line x1="54.30" y1="651.20" x2="481.00" y2="651.20" stroke="#D4D4D4" stroke-width="0.6"/>
<line x1="54.30" y1="641.20" x2="54.30" y2="651.20" stroke="#D4D4D4" stroke-width="0.6"/>
<line x1="87.30" y1="641.20" x2="87.30" y2="651.20" stroke="#D4D4D4" stroke-width="0.6"/>
<line x1="119.40" y1="641.20" x2="119.40" y2="651.20" stroke="#D4D4D4" stroke-width="0.6"/>
<line x1="152.30" y1="641.20" x2="152.30" y2="651.20" stroke="#D4D4D4" stroke-width="0.6"/>
<line x1="185.40" y1="641.20" x2="185.40" y2="651.20" stroke="#D4D4D4" stroke-width="0.6"/>
<line x1="219.00" y1="641.20" x2="219.00" y2="651.20" stroke="#D4D4D4" stroke-width="0.6"/>
<line x1="252.50" y1="641.20" x2="252.50" y2="651.20" stroke="#D4D4D4" stroke-width="0.6"/>
<line x1="283.50" y1="641.20" x2="283.50" y2="651.20" stroke="#D4D4D4" stroke-width="0.6"/>
<line x1="316.20" y1="641.20" x2="316.20" y2="651.20" stroke="#D4D4D4" stroke-width="0.6"/>
<line x1="349.00" y1="641.20" x2="349.00" y2="651.20" stroke="#D4D4D4" stroke-width="0.6"/>
<line x1="382.20" y1="641.20" x2="382.20" y2="651.20" stroke="#D4D4D4" stroke-width="0.6"/>
<line x1="414.40" y1="641.20" x2="414.40" y2="651.20" stroke="#D4D4D4" stroke-width="0.6"/>
<line x1="447.30" y1="641.20" x2="447.30" y2="651.20" stroke="#D4D4D4" stroke-width="0.6"/>
<line x1="481.00" y1="641.20" x2="481.00" y2="651.20" stroke="#D4D4D4" stroke-width="0.6"/>
<line x1="54.30" y1="641.20" x2="54.30" y2="683.00" stroke="#D4D4D4" stroke-width="0.6"/>
<line x1="481.00" y1="641.20" x2="481.00" y2="683.00" stroke="#D4D4D4" stroke-width="0.6"/>
<line x1="54.30" y1="661.20" x2="481.00" y2="661.20" stroke="#D4D4D4" stroke-width="0.6"/>
<line x1="54.30" y1="671.20" x2="481.00" y2="671.20" stroke="#D4D4D4" stroke-width="0.6"/>
<line x1="447.30" y1="661.20" x2="447.30" y2="671.20" stroke="#D4D4D4" stroke-width="0.6"/>
<line x1="87.30" y1="661.20" x2="87.30" y2="671.20" stroke="#D4D4D4" stroke-width="0.6"/>
<rect x="119.40" y="501.20" width="99.60" height="140.00" fill="#C4D79B"/>
<rect x="252.50" y="501.20" width="96.50" height="140.00" fill="#FABF8F"/>
<rect x="382.20" y="501.20" width="98.80" height="140.00" fill="#B8CCE4"/>
<rect x="54.30" y="561.20" width="426.70" height="10.00" fill="#BFBFBF"/>
<rect x="119.40" y="501.20" width="99.60" height="30.00" fill="none" stroke="#3c3c3c" stroke-width="0.8"/>
<line x1="119.40" y1="511.20" x2="219.00" y2="511.20" stroke="#3c3c3c" stroke-width="0.8"/>
<line x1="119.40" y1="521.20" x2="219.00" y2="521.20" stroke="#3c3c3c" stroke-width="0.8"/>
<line x1="152.30" y1="511.20" x2="152.30" y2="521.20" stroke="#3c3c3c" stroke-width="0.8"/>
<line x1="185.40" y1="511.20" x2="185.40" y2="521.20" stroke="#3c3c3c" stroke-width="0.8"/>
<text x="169.20" y="508.60" font-size="6.6" text-anchor="middle" fill="#222" textLength="94.30" lengthAdjust="spacingAndGlyphs">Armstrong, et al. (2002) - U95A</text>
<text x="120.40" y="518.80" font-size="6.6" fill="#222">MLL</text>
<text x="153.30" y="518.80" font-size="6.6" fill="#222">Other</text>
<text x="186.40" y="518.80" font-size="6.6" fill="#222">p</text>
<rect x="252.50" y="501.20" width="96.50" height="30.00" fill="none" stroke="#3c3c3c" stroke-width="0.8"/>
<line x1="252.50" y1="511.20" x2="349.00" y2="511.20" stroke="#3c3c3c" stroke-width="0.8"/>
<line x1="252.50" y1="521.20" x2="349.00" y2="521.20" stroke="#3c3c3c" stroke-width="0.8"/>
<line x1="283.50" y1="511.20" x2="283.50" y2="521.20" stroke="#3c3c3c" stroke-width="0.8"/>
<line x1="316.20" y1="511.20" x2="316.20" y2="521.20" stroke="#3c3c3c" stroke-width="0.8"/>
<text x="300.75" y="508.60" font-size="6.6" text-anchor="middle" fill="#222" textLength="77.40" lengthAdjust="spacingAndGlyphs">Yeoh, et al. (2002) - U95A</text>
<text x="253.50" y="518.80" font-size="6.6" fill="#222">MLL</text>
<text x="284.50" y="518.80" font-size="6.6" fill="#222">Other</text>
<text x="317.20" y="518.80" font-size="6.6" fill="#222">p</text>
<rect x="382.20" y="501.20" width="98.80" height="30.00" fill="none" stroke="#3c3c3c" stroke-width="0.8"/>
<line x1="382.20" y1="511.20" x2="481.00" y2="511.20" stroke="#3c3c3c" stroke-width="0.8"/>
<line x1="382.20" y1="521.20" x2="481.00" y2="521.20" stroke="#3c3c3c" stroke-width="0.8"/>
<line x1="414.40" y1="511.20" x2="414.40" y2="521.20" stroke="#3c3c3c" stroke-width="0.8"/>
<line x1="447.30" y1="511.20" x2="447.30" y2="521.20" stroke="#3c3c3c" stroke-width="0.8"/>
<text x="431.60" y="508.60" font-size="6.6" text-anchor="middle" fill="#222" textLength="80.30" lengthAdjust="spacingAndGlyphs">Ross, et al. (2003) - U133A</text>
<text x="383.20" y="518.80" font-size="6.6" fill="#222">MLL</text>
<text x="415.40" y="518.80" font-size="6.6" fill="#222">Other</text>
<text x="448.30" y="518.80" font-size="6.6" fill="#222">p</text>
<line x1="54.30" y1="531.20" x2="481.00" y2="531.20" stroke="#3c3c3c" stroke-width="1.1"/>
<line x1="54.30" y1="541.20" x2="481.00" y2="541.20" stroke="#3c3c3c" stroke-width="1.1"/>
<line x1="54.30" y1="551.20" x2="481.00" y2="551.20" stroke="#3c3c3c" stroke-width="1.1"/>
<line x1="54.30" y1="561.20" x2="481.00" y2="561.20" stroke="#3c3c3c" stroke-width="1.1"/>
<line x1="54.30" y1="571.20" x2="481.00" y2="571.20" stroke="#3c3c3c" stroke-width="1.1"/>
<line x1="54.30" y1="581.20" x2="481.00" y2="581.20" stroke="#3c3c3c" stroke-width="1.1"/>
<line x1="54.30" y1="591.20" x2="481.00" y2="591.20" stroke="#3c3c3c" stroke-width="1.1"/>
<line x1="54.30" y1="601.20" x2="481.00" y2="601.20" stroke="#3c3c3c" stroke-width="1.1"/>
<line x1="54.30" y1="611.20" x2="481.00" y2="611.20" stroke="#3c3c3c" stroke-width="1.1"/>
<line x1="54.30" y1="621.20" x2="481.00" y2="621.20" stroke="#3c3c3c" stroke-width="1.1"/>
<line x1="54.30" y1="631.20" x2="481.00" y2="631.20" stroke="#3c3c3c" stroke-width="1.1"/>
<line x1="54.30" y1="641.20" x2="481.00" y2="641.20" stroke="#3c3c3c" stroke-width="1.1"/>
<line x1="87.30" y1="531.20" x2="87.30" y2="641.20" stroke="#3c3c3c" stroke-width="1.1"/>
<line x1="119.40" y1="531.20" x2="119.40" y2="641.20" stroke="#3c3c3c" stroke-width="1.1"/>
<line x1="152.30" y1="531.20" x2="152.30" y2="641.20" stroke="#3c3c3c" stroke-width="1.1"/>
<line x1="185.40" y1="531.20" x2="185.40" y2="641.20" stroke="#3c3c3c" stroke-width="1.1"/>
<line x1="219.00" y1="531.20" x2="219.00" y2="641.20" stroke="#3c3c3c" stroke-width="1.1"/>
<line x1="252.50" y1="531.20" x2="252.50" y2="641.20" stroke="#3c3c3c" stroke-width="1.1"/>
<line x1="283.50" y1="531.20" x2="283.50" y2="641.20" stroke="#3c3c3c" stroke-width="1.1"/>
<line x1="316.20" y1="531.20" x2="316.20" y2="641.20" stroke="#3c3c3c" stroke-width="1.1"/>
<line x1="349.00" y1="531.20" x2="349.00" y2="641.20" stroke="#3c3c3c" stroke-width="1.1"/>
<line x1="382.20" y1="531.20" x2="382.20" y2="641.20" stroke="#3c3c3c" stroke-width="1.1"/>
<line x1="414.40" y1="531.20" x2="414.40" y2="641.20" stroke="#3c3c3c" stroke-width="1.1"/>
<line x1="447.30" y1="531.20" x2="447.30" y2="641.20" stroke="#3c3c3c" stroke-width="1.1"/>
<line x1="481.00" y1="531.20" x2="481.00" y2="641.20" stroke="#3c3c3c" stroke-width="1.1"/>
<text x="55.50" y="539.00" font-size="6.6" fill="#222">FLT3</text>
<text x="151.30" y="539.00" font-size="6.6" text-anchor="end" fill="#222">4002.275</text>
<text x="184.40" y="539.00" font-size="6.6" text-anchor="end" fill="#222">1584.741</text>
<text x="218.00" y="539.00" font-size="6.6" text-anchor="end" fill="#222">0.008</text>
<text x="282.50" y="539.00" font-size="6.6" text-anchor="end" fill="#222">10057.34<tspan font-size="5" dy="-0.8">*</tspan></text>
<text x="315.20" y="539.00" font-size="6.6" text-anchor="end" fill="#222">3074.019<tspan font-size="5" dy="-0.8">*</tspan></text>
<text x="348.00" y="539.00" font-size="6.6" text-anchor="end" fill="#222">&lt;0.001</text>
<text x="413.40" y="539.00" font-size="6.6" text-anchor="end" fill="#222">5175.405<tspan font-size="5" dy="-0.8">*</tspan></text>
<text x="446.30" y="539.00" font-size="6.6" text-anchor="end" fill="#222">886.378<tspan font-size="5" dy="-0.8">*</tspan></text>
<text x="480.00" y="539.00" font-size="6.6" text-anchor="end" fill="#222">&lt;0.001</text>
<text x="55.50" y="549.00" font-size="6.6" fill="#222">MEIS1</text>
<text x="151.30" y="549.00" font-size="6.6" text-anchor="end" fill="#222">2042.192<tspan font-size="4.2" dy="-2.2">^</tspan></text>
<text x="184.40" y="549.00" font-size="6.6" text-anchor="end" fill="#222">0<tspan font-size="4.2" dy="-2.2">^</tspan></text>
<text x="218.00" y="549.00" font-size="6.6" text-anchor="end" fill="#222">0.003</text>
<text x="253.70" y="549.00" font-size="6.6" fill="#222">4829.18<tspan font-size="4.2" dy="-2.2">^</tspan></text>
<text x="315.20" y="549.00" font-size="6.6" text-anchor="end" fill="#222">0<tspan font-size="4.2" dy="-2.2">^</tspan></text>
<text x="348.00" y="549.00" font-size="6.6" text-anchor="end" fill="#222">&lt;0.001</text>
<text x="413.40" y="549.00" font-size="6.6" text-anchor="end" fill="#222">2469.008</text>
<text x="446.30" y="549.00" font-size="6.6" text-anchor="end" fill="#222">90.85</text>
<text x="480.00" y="549.00" font-size="6.6" text-anchor="end" fill="#222">&lt;0.001</text>
<text x="55.50" y="559.00" font-size="6.6" fill="#222">HOXa9</text>
<text x="151.30" y="559.00" font-size="6.6" text-anchor="end" fill="#222">2156.660<tspan font-size="4.2" dy="-2.2">^</tspan></text>
<text x="184.40" y="559.00" font-size="6.6" text-anchor="end" fill="#222">0<tspan font-size="4.2" dy="-2.2">^</tspan></text>
<text x="218.00" y="559.00" font-size="6.6" text-anchor="end" fill="#222">&lt;0.001</text>
<text x="282.50" y="559.00" font-size="6.6" text-anchor="end" fill="#222">4898.608</text>
<text x="315.20" y="559.00" font-size="6.6" text-anchor="end" fill="#222">375.0805</text>
<text x="348.00" y="559.00" font-size="6.6" text-anchor="end" fill="#222">&lt;0.001</text>
<text x="413.40" y="559.00" font-size="6.6" text-anchor="end" fill="#222">1795.635</text>
<text x="446.30" y="559.00" font-size="6.6" text-anchor="end" fill="#222">40.08889</text>
<text x="480.00" y="559.00" font-size="6.6" text-anchor="end" fill="#222">&lt;0.001</text>
<text x="55.50" y="579.00" font-size="6.6" fill="#222">FHIT</text>
<text x="151.30" y="579.00" font-size="6.6" text-anchor="end" fill="#222">791.15</text>
<text x="184.40" y="579.00" font-size="6.6" text-anchor="end" fill="#222">2474.688</text>
<text x="218.00" y="579.00" font-size="6.6" text-anchor="end" fill="#222">&lt;0.001</text>
<text x="282.50" y="579.00" font-size="6.6" text-anchor="end" fill="#222">1590.705</text>
<text x="315.20" y="579.00" font-size="6.6" text-anchor="end" fill="#222">3798.402</text>
<text x="348.00" y="579.00" font-size="6.6" text-anchor="end" fill="#222">&lt;0.001</text>
<text x="413.40" y="579.00" font-size="6.6" text-anchor="end" fill="#222">180.23</text>
<text x="446.30" y="579.00" font-size="6.6" text-anchor="end" fill="#222">1227.447</text>
<text x="480.00" y="579.00" font-size="6.6" text-anchor="end" fill="#222">&lt;0.001</text>
<text x="55.50" y="589.00" font-size="6.6" fill="#222">DAPK1</text>
<text x="151.30" y="589.00" font-size="6.6" text-anchor="end" fill="#222">213.65</text>
<text x="184.40" y="589.00" font-size="6.6" text-anchor="end" fill="#222">814.1542</text>
<text x="218.00" y="589.00" font-size="6.6" text-anchor="end" fill="#222">0.016</text>
<text x="282.50" y="589.00" font-size="6.6" text-anchor="end" fill="#222">591.21</text>
<text x="315.20" y="589.00" font-size="6.6" text-anchor="end" fill="#222">3174.031</text>
<text x="348.00" y="589.00" font-size="6.6" text-anchor="end" fill="#222">&lt;0.001</text>
<text x="413.40" y="589.00" font-size="6.6" text-anchor="end" fill="#222">288.4525</text>
<text x="446.30" y="589.00" font-size="6.6" text-anchor="end" fill="#222">810.2514</text>
<text x="480.00" y="589.00" font-size="6.6" text-anchor="end" fill="#222">&lt;0.001</text>
<text x="55.50" y="599.00" font-size="6.6" fill="#222">DAXX</text>
<text x="151.30" y="599.00" font-size="6.6" text-anchor="end" fill="#222">2647.125</text>
<text x="184.40" y="599.00" font-size="6.6" text-anchor="end" fill="#222">3367.638</text>
<text x="218.00" y="599.00" font-size="6.6" text-anchor="end" fill="#222">0.076</text>
<text x="282.50" y="599.00" font-size="6.6" text-anchor="end" fill="#222">5303.788</text>
<text x="315.20" y="599.00" font-size="6.6" text-anchor="end" fill="#222">6561.702</text>
<text x="348.00" y="599.00" font-size="6.6" text-anchor="end" fill="#222">0.001</text>
<text x="413.40" y="599.00" font-size="6.6" text-anchor="end" fill="#222">425.87</text>
<text x="446.30" y="599.00" font-size="6.6" text-anchor="end" fill="#222">512.7903</text>
<text x="480.00" y="599.00" font-size="6.6" text-anchor="end" fill="#222">0.006</text>
<text x="55.50" y="609.00" font-size="6.6" fill="#222">CCR6</text>
<text x="151.30" y="609.00" font-size="6.6" text-anchor="end" fill="#222">0<tspan font-size="4.2" dy="-2.2">^</tspan></text>
<text x="184.40" y="609.00" font-size="6.6" text-anchor="end" fill="#222">45.3020<tspan font-size="4.2" dy="-2.2">^</tspan></text>
<text x="218.00" y="609.00" font-size="6.6" text-anchor="end" fill="#222">0.03</text>
<text x="282.50" y="609.00" font-size="6.6" text-anchor="end" fill="#222">140.3025</text>
<text x="315.20" y="609.00" font-size="6.6" text-anchor="end" fill="#222">329.4392</text>
<text x="348.00" y="609.00" font-size="6.6" text-anchor="end" fill="#222">0.3</text>
<text x="413.40" y="609.00" font-size="6.6" text-anchor="end" fill="#222">93.245</text>
<text x="446.30" y="609.00" font-size="6.6" text-anchor="end" fill="#222">186.5583</text>
<text x="480.00" y="609.00" font-size="6.6" text-anchor="end" fill="#222">0.02</text>
<text x="55.50" y="619.00" font-size="6.6" fill="#222">LIFR</text>
<text x="151.30" y="619.00" font-size="6.6" text-anchor="end" fill="#222">0<tspan font-size="4.2" dy="-2.2">^</tspan></text>
<text x="184.40" y="619.00" font-size="6.6" text-anchor="end" fill="#222">89.1417<tspan font-size="4.2" dy="-2.2">^</tspan></text>
<text x="218.00" y="619.00" font-size="6.6" text-anchor="end" fill="#222">0.211</text>
<text x="282.50" y="619.00" font-size="6.6" text-anchor="end" fill="#222">83.495</text>
<text x="315.20" y="619.00" font-size="6.6" text-anchor="end" fill="#222">336.3399</text>
<text x="348.00" y="619.00" font-size="6.6" text-anchor="end" fill="#222">0.361</text>
<text x="413.40" y="619.00" font-size="6.6" text-anchor="end" fill="#222">59.80833</text>
<text x="446.30" y="619.00" font-size="6.6" text-anchor="end" fill="#222">59.80833</text>
<text x="480.00" y="619.00" font-size="6.6" text-anchor="end" fill="#222">0.468</text>
<text x="55.50" y="629.00" font-size="6.6" fill="#222">CASP9</text>
<text x="151.30" y="629.00" font-size="6.6" text-anchor="end" fill="#222">559.05</text>
<text x="184.40" y="629.00" font-size="6.6" text-anchor="end" fill="#222">499.0271</text>
<text x="218.00" y="629.00" font-size="6.6" text-anchor="end" fill="#222">0.535</text>
<text x="282.50" y="629.00" font-size="6.6" text-anchor="end" fill="#222">1283.265</text>
<text x="315.20" y="629.00" font-size="6.6" text-anchor="end" fill="#222">1599.365</text>
<text x="348.00" y="629.00" font-size="6.6" text-anchor="end" fill="#222">0.162</text>
<text x="413.40" y="629.00" font-size="6.6" text-anchor="end" fill="#222">603.5775</text>
<text x="446.30" y="629.00" font-size="6.6" text-anchor="end" fill="#222">532.1722</text>
<text x="480.00" y="629.00" font-size="6.6" text-anchor="end" fill="#222">0.048</text>
<text x="55.50" y="639.00" font-size="6.6" fill="#222">HRK</text>
<text x="151.30" y="639.00" font-size="6.6" text-anchor="end" fill="#222">406.7</text>
<text x="184.40" y="639.00" font-size="6.6" text-anchor="end" fill="#222">790.1958</text>
<text x="218.00" y="639.00" font-size="6.6" text-anchor="end" fill="#222">0.003</text>
<text x="282.50" y="639.00" font-size="6.6" text-anchor="end" fill="#222">864.255</text>
<text x="315.20" y="639.00" font-size="6.6" text-anchor="end" fill="#222">2194.903</text>
<text x="348.00" y="639.00" font-size="6.6" text-anchor="end" fill="#222">&lt;0.001</text>
<text x="413.40" y="639.00" font-size="6.6" text-anchor="end" fill="#222">66.30909</text>
<text x="446.30" y="639.00" font-size="6.6" text-anchor="end" fill="#222">184.5861</text>
<text x="480.00" y="639.00" font-size="6.6" text-anchor="end" fill="#222">&lt;0.001</text>
<text x="55.50" y="659.30" font-size="7.5" fill="#222" textLength="391.50" lengthAdjust="spacingAndGlyphs">*Where applicable, for FLT3 analysis, MLL-r samples were combined with hyperdiploid samples and compared to "other ALL"</text>
<text x="87.50" y="668.80" font-size="7.5" fill="#222" textLength="314.50" lengthAdjust="spacingAndGlyphs">secondary to the fact that with MLL-r ALL, Hyperdiploid ALL is known to show overexpression of FLT3</text>
<text x="55.50" y="678.00" font-size="7.5" fill="#222" textLength="406.80" lengthAdjust="spacingAndGlyphs">^Where applicable, negative relative flourescence array data was normalized to zero with value added to corresponding samples</text>
</svg></body></html>
